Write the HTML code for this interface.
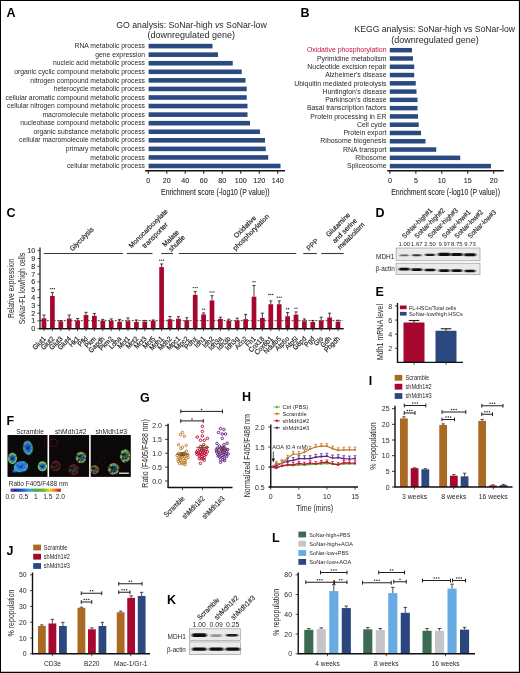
<!DOCTYPE html>
<html><head><meta charset="utf-8"><title>Figure</title>
<style>
html,body{margin:0;padding:0;background:#fff;}
body{width:520px;height:673px;overflow:hidden;font-family:"Liberation Sans",sans-serif;}
svg{display:block;will-change:transform;font-family:"Liberation Sans",sans-serif;}
</style></head><body>
<svg width="520" height="673" viewBox="0 0 520 673">
<rect x="0" y="0" width="520" height="673" fill="#ffffff"/>
<g opacity="0.999">
<text transform="translate(6.50,16.93)" font-size="12.5" text-anchor="start" fill="#000" font-weight="bold">A</text>
<text transform="translate(191.5,27.7)" font-size="9.1" text-anchor="middle" fill="#231f20" textLength="150.5" lengthAdjust="spacingAndGlyphs">GO analysis: SoNar-high <tspan font-style="italic">vs</tspan> SoNar-low</text>
<text transform="translate(191.30,37.90)" font-size="9.1" text-anchor="middle" fill="#231f20" textLength="87.50" lengthAdjust="spacingAndGlyphs">(downregulated gene)</text>
<rect x="148.60" y="43.80" width="63.90" height="4.60" fill="#2c4a82" />
<text transform="translate(145.00,48.25)" font-size="7.4" text-anchor="end" fill="#231f20" textLength="70.50" lengthAdjust="spacingAndGlyphs">RNA metabolic process</text>
<rect x="148.60" y="52.36" width="69.40" height="4.60" fill="#2c4a82" />
<text transform="translate(145.00,56.81)" font-size="7.4" text-anchor="end" fill="#231f20" textLength="49.78" lengthAdjust="spacingAndGlyphs">gene expression</text>
<rect x="148.60" y="60.93" width="84.15" height="4.60" fill="#2c4a82" />
<text transform="translate(145.00,65.38)" font-size="7.4" text-anchor="end" fill="#231f20" textLength="92.00" lengthAdjust="spacingAndGlyphs">nucleic acid metabolic process</text>
<rect x="148.60" y="69.49" width="93.15" height="4.60" fill="#2c4a82" />
<text transform="translate(145.00,73.94)" font-size="7.4" text-anchor="end" fill="#231f20" textLength="130.83" lengthAdjust="spacingAndGlyphs">organic cyclic compound metabolic process</text>
<rect x="148.60" y="78.06" width="96.90" height="4.60" fill="#2c4a82" />
<text transform="translate(145.00,82.51)" font-size="7.4" text-anchor="end" fill="#231f20" textLength="114.63" lengthAdjust="spacingAndGlyphs">nitrogen compound metabolic process</text>
<rect x="148.60" y="86.62" width="98.15" height="4.60" fill="#2c4a82" />
<text transform="translate(145.00,91.07)" font-size="7.4" text-anchor="end" fill="#231f20" textLength="91.24" lengthAdjust="spacingAndGlyphs">heterocycle metabolic process</text>
<rect x="148.60" y="95.19" width="98.15" height="4.60" fill="#2c4a82" />
<text transform="translate(145.00,99.63)" font-size="7.4" text-anchor="end" fill="#231f20" textLength="139.50" lengthAdjust="spacingAndGlyphs">cellular aromatic compound metabolic process</text>
<rect x="148.60" y="103.75" width="98.90" height="4.60" fill="#2c4a82" />
<text transform="translate(145.00,108.20)" font-size="7.4" text-anchor="end" fill="#231f20" textLength="138.00" lengthAdjust="spacingAndGlyphs">cellular nitrogen compound metabolic process</text>
<rect x="148.60" y="112.31" width="98.90" height="4.60" fill="#2c4a82" />
<text transform="translate(145.00,116.76)" font-size="7.4" text-anchor="end" fill="#231f20" textLength="102.55" lengthAdjust="spacingAndGlyphs">macromolecule metabolic process</text>
<rect x="148.60" y="120.88" width="101.40" height="4.60" fill="#2c4a82" />
<text transform="translate(145.00,125.33)" font-size="7.4" text-anchor="end" fill="#231f20" textLength="124.81" lengthAdjust="spacingAndGlyphs">nucleobase compound metabolic process</text>
<rect x="148.60" y="129.44" width="111.40" height="4.60" fill="#2c4a82" />
<text transform="translate(145.00,133.89)" font-size="7.4" text-anchor="end" fill="#231f20" textLength="111.61" lengthAdjust="spacingAndGlyphs">organic substance metabolic process</text>
<rect x="148.60" y="138.01" width="116.40" height="4.60" fill="#2c4a82" />
<text transform="translate(145.00,142.46)" font-size="7.4" text-anchor="end" fill="#231f20" textLength="125.92" lengthAdjust="spacingAndGlyphs">cellular macromolecule metabolic process</text>
<rect x="148.60" y="146.57" width="117.15" height="4.60" fill="#2c4a82" />
<text transform="translate(145.00,151.02)" font-size="7.4" text-anchor="end" fill="#231f20" textLength="79.17" lengthAdjust="spacingAndGlyphs">primary metabolic process</text>
<rect x="148.60" y="155.14" width="119.65" height="4.60" fill="#2c4a82" />
<text transform="translate(145.00,159.58)" font-size="7.4" text-anchor="end" fill="#231f20" textLength="54.67" lengthAdjust="spacingAndGlyphs">metabolic process</text>
<rect x="148.60" y="163.70" width="131.90" height="4.60" fill="#2c4a82" />
<text transform="translate(145.00,168.15)" font-size="7.4" text-anchor="end" fill="#231f20" textLength="78.04" lengthAdjust="spacingAndGlyphs">cellular metabolic process</text>
<line x1="145.20" y1="170.75" x2="285.00" y2="170.75" stroke="#101010" stroke-width="1.3" stroke-linecap="butt"/>
<line x1="148.25" y1="170.75" x2="148.25" y2="173.75" stroke="#231f20" stroke-width="1.1" stroke-linecap="butt"/>
<text transform="translate(148.25,183.03)" font-size="7.9" text-anchor="middle" fill="#231f20" textLength="3.95" lengthAdjust="spacingAndGlyphs" stroke="#231f20" stroke-width="0.1">0</text>
<line x1="166.75" y1="170.75" x2="166.75" y2="173.75" stroke="#231f20" stroke-width="1.1" stroke-linecap="butt"/>
<text transform="translate(166.75,183.03)" font-size="7.9" text-anchor="middle" fill="#231f20" textLength="7.91" lengthAdjust="spacingAndGlyphs" stroke="#231f20" stroke-width="0.1">20</text>
<line x1="185.25" y1="170.75" x2="185.25" y2="173.75" stroke="#231f20" stroke-width="1.1" stroke-linecap="butt"/>
<text transform="translate(185.25,183.03)" font-size="7.9" text-anchor="middle" fill="#231f20" textLength="7.91" lengthAdjust="spacingAndGlyphs" stroke="#231f20" stroke-width="0.1">40</text>
<line x1="203.75" y1="170.75" x2="203.75" y2="173.75" stroke="#231f20" stroke-width="1.1" stroke-linecap="butt"/>
<text transform="translate(203.75,183.03)" font-size="7.9" text-anchor="middle" fill="#231f20" textLength="7.91" lengthAdjust="spacingAndGlyphs" stroke="#231f20" stroke-width="0.1">60</text>
<line x1="222.25" y1="170.75" x2="222.25" y2="173.75" stroke="#231f20" stroke-width="1.1" stroke-linecap="butt"/>
<text transform="translate(222.25,183.03)" font-size="7.9" text-anchor="middle" fill="#231f20" textLength="7.91" lengthAdjust="spacingAndGlyphs" stroke="#231f20" stroke-width="0.1">80</text>
<line x1="240.75" y1="170.75" x2="240.75" y2="173.75" stroke="#231f20" stroke-width="1.1" stroke-linecap="butt"/>
<text transform="translate(240.75,183.03)" font-size="7.9" text-anchor="middle" fill="#231f20" textLength="11.86" lengthAdjust="spacingAndGlyphs" stroke="#231f20" stroke-width="0.1">100</text>
<line x1="259.25" y1="170.75" x2="259.25" y2="173.75" stroke="#231f20" stroke-width="1.1" stroke-linecap="butt"/>
<text transform="translate(259.25,183.03)" font-size="7.9" text-anchor="middle" fill="#231f20" textLength="11.86" lengthAdjust="spacingAndGlyphs" stroke="#231f20" stroke-width="0.1">120</text>
<line x1="277.75" y1="170.75" x2="277.75" y2="173.75" stroke="#231f20" stroke-width="1.1" stroke-linecap="butt"/>
<text transform="translate(277.75,183.03)" font-size="7.9" text-anchor="middle" fill="#231f20" textLength="11.86" lengthAdjust="spacingAndGlyphs" stroke="#231f20" stroke-width="0.1">140</text>
<text transform="translate(215.30,195.02)" font-size="9.0" text-anchor="middle" fill="#231f20" textLength="108.50" lengthAdjust="spacingAndGlyphs" stroke="#231f20" stroke-width="0.08">Enrichment score (-log10 (P value))</text>
<text transform="translate(300.50,17.43)" font-size="12.5" text-anchor="start" fill="#000" font-weight="bold">B</text>
<text transform="translate(434.75,32.00)" font-size="9.1" text-anchor="middle" fill="#231f20" textLength="160.50" lengthAdjust="spacingAndGlyphs">KEGG analysis: SoNar-high vs SoNar-low</text>
<text transform="translate(435.00,42.50)" font-size="9.1" text-anchor="middle" fill="#231f20" textLength="87.50" lengthAdjust="spacingAndGlyphs">(downregulated gene)</text>
<rect x="389.80" y="47.95" width="22.20" height="4.50" fill="#2c4a82" />
<text transform="translate(386.50,52.40)" font-size="7.4" text-anchor="end" fill="#c0143c" textLength="79.62" lengthAdjust="spacingAndGlyphs">Oxidative phosphorylation</text>
<rect x="389.80" y="56.23" width="23.20" height="4.50" fill="#2c4a82" />
<text transform="translate(386.50,60.68)" font-size="7.4" text-anchor="end" fill="#231f20" textLength="69.60" lengthAdjust="spacingAndGlyphs">Pyrimidine metabolism</text>
<rect x="389.80" y="64.51" width="24.45" height="4.50" fill="#2c4a82" />
<text transform="translate(386.50,68.96)" font-size="7.4" text-anchor="end" fill="#231f20" textLength="79.22" lengthAdjust="spacingAndGlyphs">Nucleotide excision repair</text>
<rect x="389.80" y="72.79" width="24.45" height="4.50" fill="#2c4a82" />
<text transform="translate(386.50,77.23)" font-size="7.4" text-anchor="end" fill="#231f20" textLength="61.31" lengthAdjust="spacingAndGlyphs">Alzheimer's disease</text>
<rect x="389.80" y="81.06" width="25.95" height="4.50" fill="#2c4a82" />
<text transform="translate(386.50,85.51)" font-size="7.4" text-anchor="end" fill="#231f20" textLength="92.30" lengthAdjust="spacingAndGlyphs">Ubiquitin mediated proteolysis</text>
<rect x="389.80" y="89.34" width="26.70" height="4.50" fill="#2c4a82" />
<text transform="translate(386.50,93.79)" font-size="7.4" text-anchor="end" fill="#231f20" textLength="64.02" lengthAdjust="spacingAndGlyphs">Huntington's disease</text>
<rect x="389.80" y="97.62" width="27.70" height="4.50" fill="#2c4a82" />
<text transform="translate(386.50,102.07)" font-size="7.4" text-anchor="end" fill="#231f20" textLength="61.32" lengthAdjust="spacingAndGlyphs">Parkinson's disease</text>
<rect x="389.80" y="105.90" width="27.70" height="4.50" fill="#2c4a82" />
<text transform="translate(386.50,110.35)" font-size="7.4" text-anchor="end" fill="#231f20" textLength="79.60" lengthAdjust="spacingAndGlyphs">Basal transcription factors</text>
<rect x="389.80" y="114.18" width="28.20" height="4.50" fill="#2c4a82" />
<text transform="translate(386.50,118.63)" font-size="7.4" text-anchor="end" fill="#231f20" textLength="76.15" lengthAdjust="spacingAndGlyphs">Protein processing in ER</text>
<rect x="389.80" y="122.46" width="28.95" height="4.50" fill="#2c4a82" />
<text transform="translate(386.50,126.91)" font-size="7.4" text-anchor="end" fill="#231f20" textLength="29.61" lengthAdjust="spacingAndGlyphs">Cell cycle</text>
<rect x="389.80" y="130.74" width="31.20" height="4.50" fill="#2c4a82" />
<text transform="translate(386.50,135.18)" font-size="7.4" text-anchor="end" fill="#231f20" textLength="43.08" lengthAdjust="spacingAndGlyphs">Protein export</text>
<rect x="389.80" y="139.01" width="35.70" height="4.50" fill="#2c4a82" />
<text transform="translate(386.50,143.46)" font-size="7.4" text-anchor="end" fill="#231f20" textLength="66.15" lengthAdjust="spacingAndGlyphs">Ribosome biogenesis</text>
<rect x="389.80" y="147.29" width="46.45" height="4.50" fill="#2c4a82" />
<text transform="translate(386.50,151.74)" font-size="7.4" text-anchor="end" fill="#231f20" textLength="43.45" lengthAdjust="spacingAndGlyphs">RNA transport</text>
<rect x="389.80" y="155.57" width="70.45" height="4.50" fill="#2c4a82" />
<text transform="translate(386.50,160.02)" font-size="7.4" text-anchor="end" fill="#231f20" textLength="31.15" lengthAdjust="spacingAndGlyphs">Ribosome</text>
<rect x="389.80" y="163.85" width="101.20" height="4.50" fill="#2c4a82" />
<text transform="translate(386.50,168.30)" font-size="7.4" text-anchor="end" fill="#231f20" textLength="39.61" lengthAdjust="spacingAndGlyphs">Spliceosome</text>
<line x1="387.30" y1="170.75" x2="503.75" y2="170.75" stroke="#101010" stroke-width="1.3" stroke-linecap="butt"/>
<line x1="389.90" y1="170.75" x2="389.90" y2="173.75" stroke="#231f20" stroke-width="1.1" stroke-linecap="butt"/>
<text transform="translate(389.90,183.03)" font-size="7.9" text-anchor="middle" fill="#231f20" textLength="3.95" lengthAdjust="spacingAndGlyphs" stroke="#231f20" stroke-width="0.1">0</text>
<line x1="415.85" y1="170.75" x2="415.85" y2="173.75" stroke="#231f20" stroke-width="1.1" stroke-linecap="butt"/>
<text transform="translate(415.85,183.03)" font-size="7.9" text-anchor="middle" fill="#231f20" textLength="3.95" lengthAdjust="spacingAndGlyphs" stroke="#231f20" stroke-width="0.1">5</text>
<line x1="441.80" y1="170.75" x2="441.80" y2="173.75" stroke="#231f20" stroke-width="1.1" stroke-linecap="butt"/>
<text transform="translate(441.80,183.03)" font-size="7.9" text-anchor="middle" fill="#231f20" textLength="7.91" lengthAdjust="spacingAndGlyphs" stroke="#231f20" stroke-width="0.1">10</text>
<line x1="467.75" y1="170.75" x2="467.75" y2="173.75" stroke="#231f20" stroke-width="1.1" stroke-linecap="butt"/>
<text transform="translate(467.75,183.03)" font-size="7.9" text-anchor="middle" fill="#231f20" textLength="7.91" lengthAdjust="spacingAndGlyphs" stroke="#231f20" stroke-width="0.1">15</text>
<line x1="493.70" y1="170.75" x2="493.70" y2="173.75" stroke="#231f20" stroke-width="1.1" stroke-linecap="butt"/>
<text transform="translate(493.70,183.03)" font-size="7.9" text-anchor="middle" fill="#231f20" textLength="7.91" lengthAdjust="spacingAndGlyphs" stroke="#231f20" stroke-width="0.1">20</text>
<text transform="translate(445.60,195.02)" font-size="9.0" text-anchor="middle" fill="#231f20" textLength="108.70" lengthAdjust="spacingAndGlyphs" stroke="#231f20" stroke-width="0.08">Enrichment score (-log10 (P value))</text>
<text transform="translate(6.50,216.68)" font-size="12.5" text-anchor="start" fill="#000" font-weight="bold">C</text>
<line x1="40.00" y1="247.50" x2="40.00" y2="329.20" stroke="#101010" stroke-width="1.2" stroke-linecap="butt"/>
<line x1="39.50" y1="328.70" x2="343.50" y2="328.70" stroke="#101010" stroke-width="1.2" stroke-linecap="butt"/>
<line x1="37.40" y1="328.70" x2="40.00" y2="328.70" stroke="#231f20" stroke-width="0.8" stroke-linecap="butt"/>
<text transform="translate(35.30,331.21)" font-size="7.0" text-anchor="end" fill="#231f20" textLength="3.97" lengthAdjust="spacingAndGlyphs" stroke="#231f20" stroke-width="0.1">0</text>
<line x1="37.40" y1="320.90" x2="40.00" y2="320.90" stroke="#231f20" stroke-width="0.8" stroke-linecap="butt"/>
<text transform="translate(35.30,323.41)" font-size="7.0" text-anchor="end" fill="#231f20" textLength="3.97" lengthAdjust="spacingAndGlyphs" stroke="#231f20" stroke-width="0.1">1</text>
<line x1="37.40" y1="313.10" x2="40.00" y2="313.10" stroke="#231f20" stroke-width="0.8" stroke-linecap="butt"/>
<text transform="translate(35.30,315.61)" font-size="7.0" text-anchor="end" fill="#231f20" textLength="3.97" lengthAdjust="spacingAndGlyphs" stroke="#231f20" stroke-width="0.1">2</text>
<line x1="37.40" y1="305.30" x2="40.00" y2="305.30" stroke="#231f20" stroke-width="0.8" stroke-linecap="butt"/>
<text transform="translate(35.30,307.81)" font-size="7.0" text-anchor="end" fill="#231f20" textLength="3.97" lengthAdjust="spacingAndGlyphs" stroke="#231f20" stroke-width="0.1">3</text>
<line x1="37.40" y1="297.50" x2="40.00" y2="297.50" stroke="#231f20" stroke-width="0.8" stroke-linecap="butt"/>
<text transform="translate(35.30,300.01)" font-size="7.0" text-anchor="end" fill="#231f20" textLength="3.97" lengthAdjust="spacingAndGlyphs" stroke="#231f20" stroke-width="0.1">4</text>
<line x1="37.40" y1="289.70" x2="40.00" y2="289.70" stroke="#231f20" stroke-width="0.8" stroke-linecap="butt"/>
<text transform="translate(35.30,292.21)" font-size="7.0" text-anchor="end" fill="#231f20" textLength="3.97" lengthAdjust="spacingAndGlyphs" stroke="#231f20" stroke-width="0.1">5</text>
<line x1="37.40" y1="281.90" x2="40.00" y2="281.90" stroke="#231f20" stroke-width="0.8" stroke-linecap="butt"/>
<text transform="translate(35.30,284.41)" font-size="7.0" text-anchor="end" fill="#231f20" textLength="3.97" lengthAdjust="spacingAndGlyphs" stroke="#231f20" stroke-width="0.1">6</text>
<line x1="37.40" y1="274.10" x2="40.00" y2="274.10" stroke="#231f20" stroke-width="0.8" stroke-linecap="butt"/>
<text transform="translate(35.30,276.61)" font-size="7.0" text-anchor="end" fill="#231f20" textLength="3.97" lengthAdjust="spacingAndGlyphs" stroke="#231f20" stroke-width="0.1">7</text>
<line x1="37.40" y1="266.30" x2="40.00" y2="266.30" stroke="#231f20" stroke-width="0.8" stroke-linecap="butt"/>
<text transform="translate(35.30,268.81)" font-size="7.0" text-anchor="end" fill="#231f20" textLength="3.97" lengthAdjust="spacingAndGlyphs" stroke="#231f20" stroke-width="0.1">8</text>
<line x1="37.40" y1="258.50" x2="40.00" y2="258.50" stroke="#231f20" stroke-width="0.8" stroke-linecap="butt"/>
<text transform="translate(35.30,261.01)" font-size="7.0" text-anchor="end" fill="#231f20" textLength="3.97" lengthAdjust="spacingAndGlyphs" stroke="#231f20" stroke-width="0.1">9</text>
<line x1="37.40" y1="250.70" x2="40.00" y2="250.70" stroke="#231f20" stroke-width="0.8" stroke-linecap="butt"/>
<text transform="translate(35.30,253.21)" font-size="7.0" text-anchor="end" fill="#231f20" textLength="7.94" lengthAdjust="spacingAndGlyphs" stroke="#231f20" stroke-width="0.1">10</text>
<line x1="40.00" y1="320.67" x2="343.00" y2="320.67" stroke="#000" stroke-width="0.75" stroke-dasharray="2.0 1.4" stroke-linecap="butt"/>
<line x1="44.00" y1="318.33" x2="44.00" y2="315.05" stroke="#231f20" stroke-width="0.85" stroke-linecap="butt"/>
<line x1="42.45" y1="315.05" x2="45.55" y2="315.05" stroke="#231f20" stroke-width="0.85" stroke-linecap="butt"/>
<rect x="41.65" y="318.33" width="4.70" height="10.37" fill="#a6072e" />
<line x1="44.00" y1="328.70" x2="44.00" y2="331.10" stroke="#231f20" stroke-width="0.8" stroke-linecap="butt"/>
<text transform="translate(46.30,339.30) rotate(-45)" font-size="7.1" text-anchor="end" fill="#231f20" textLength="15.61" lengthAdjust="spacingAndGlyphs" stroke="#231f20" stroke-width="0.2">Glut1</text>
<line x1="52.40" y1="295.94" x2="52.40" y2="292.43" stroke="#231f20" stroke-width="0.85" stroke-linecap="butt"/>
<line x1="50.85" y1="292.43" x2="53.95" y2="292.43" stroke="#231f20" stroke-width="0.85" stroke-linecap="butt"/>
<rect x="50.05" y="295.94" width="4.70" height="32.76" fill="#a6072e" />
<line x1="52.40" y1="328.70" x2="52.40" y2="331.10" stroke="#231f20" stroke-width="0.8" stroke-linecap="butt"/>
<text transform="translate(54.70,339.30) rotate(-45)" font-size="7.1" text-anchor="end" fill="#231f20" textLength="15.61" lengthAdjust="spacingAndGlyphs" stroke="#231f20" stroke-width="0.2">Glut2</text>
<circle cx="50.50" cy="288.63" r="0.7" fill="#231f20"/>
<circle cx="52.40" cy="288.63" r="0.7" fill="#231f20"/>
<circle cx="54.30" cy="288.63" r="0.7" fill="#231f20"/>
<line x1="60.80" y1="321.29" x2="60.80" y2="320.51" stroke="#231f20" stroke-width="0.85" stroke-linecap="butt"/>
<line x1="59.25" y1="320.51" x2="62.35" y2="320.51" stroke="#231f20" stroke-width="0.85" stroke-linecap="butt"/>
<rect x="58.45" y="321.29" width="4.70" height="7.41" fill="#a6072e" />
<line x1="60.80" y1="328.70" x2="60.80" y2="331.10" stroke="#231f20" stroke-width="0.8" stroke-linecap="butt"/>
<text transform="translate(63.10,339.30) rotate(-45)" font-size="7.1" text-anchor="end" fill="#231f20" textLength="15.61" lengthAdjust="spacingAndGlyphs" stroke="#231f20" stroke-width="0.2">Glut3</text>
<line x1="69.20" y1="318.56" x2="69.20" y2="315.05" stroke="#231f20" stroke-width="0.85" stroke-linecap="butt"/>
<line x1="67.65" y1="315.05" x2="70.75" y2="315.05" stroke="#231f20" stroke-width="0.85" stroke-linecap="butt"/>
<rect x="66.85" y="318.56" width="4.70" height="10.14" fill="#a6072e" />
<line x1="69.20" y1="328.70" x2="69.20" y2="331.10" stroke="#231f20" stroke-width="0.8" stroke-linecap="butt"/>
<text transform="translate(71.50,339.30) rotate(-45)" font-size="7.1" text-anchor="end" fill="#231f20" textLength="15.61" lengthAdjust="spacingAndGlyphs" stroke="#231f20" stroke-width="0.2">Glut4</text>
<line x1="77.60" y1="320.51" x2="77.60" y2="318.56" stroke="#231f20" stroke-width="0.85" stroke-linecap="butt"/>
<line x1="76.05" y1="318.56" x2="79.15" y2="318.56" stroke="#231f20" stroke-width="0.85" stroke-linecap="butt"/>
<rect x="75.25" y="320.51" width="4.70" height="8.19" fill="#a6072e" />
<line x1="77.60" y1="328.70" x2="77.60" y2="331.10" stroke="#231f20" stroke-width="0.8" stroke-linecap="butt"/>
<text transform="translate(79.90,339.30) rotate(-45)" font-size="7.1" text-anchor="end" fill="#231f20" textLength="11.62" lengthAdjust="spacingAndGlyphs" stroke="#231f20" stroke-width="0.2">Hk1</text>
<line x1="86.00" y1="315.05" x2="86.00" y2="312.32" stroke="#231f20" stroke-width="0.85" stroke-linecap="butt"/>
<line x1="84.45" y1="312.32" x2="87.55" y2="312.32" stroke="#231f20" stroke-width="0.85" stroke-linecap="butt"/>
<rect x="83.65" y="315.05" width="4.70" height="13.65" fill="#a6072e" />
<line x1="86.00" y1="328.70" x2="86.00" y2="331.10" stroke="#231f20" stroke-width="0.8" stroke-linecap="butt"/>
<text transform="translate(88.30,339.30) rotate(-45)" font-size="7.1" text-anchor="end" fill="#231f20" textLength="10.89" lengthAdjust="spacingAndGlyphs" stroke="#231f20" stroke-width="0.2">Pfkl</text>
<line x1="94.40" y1="315.83" x2="94.40" y2="313.49" stroke="#231f20" stroke-width="0.85" stroke-linecap="butt"/>
<line x1="92.85" y1="313.49" x2="95.95" y2="313.49" stroke="#231f20" stroke-width="0.85" stroke-linecap="butt"/>
<rect x="92.05" y="315.83" width="4.70" height="12.87" fill="#a6072e" />
<line x1="94.40" y1="328.70" x2="94.40" y2="331.10" stroke="#231f20" stroke-width="0.8" stroke-linecap="butt"/>
<text transform="translate(96.70,339.30) rotate(-45)" font-size="7.1" text-anchor="end" fill="#231f20" textLength="13.06" lengthAdjust="spacingAndGlyphs" stroke="#231f20" stroke-width="0.2">Pkm</text>
<line x1="102.80" y1="320.90" x2="102.80" y2="319.34" stroke="#231f20" stroke-width="0.85" stroke-linecap="butt"/>
<line x1="101.25" y1="319.34" x2="104.35" y2="319.34" stroke="#231f20" stroke-width="0.85" stroke-linecap="butt"/>
<rect x="100.45" y="320.90" width="4.70" height="7.80" fill="#a6072e" />
<line x1="102.80" y1="328.70" x2="102.80" y2="331.10" stroke="#231f20" stroke-width="0.8" stroke-linecap="butt"/>
<text transform="translate(105.10,339.30) rotate(-45)" font-size="7.1" text-anchor="end" fill="#231f20" textLength="19.61" lengthAdjust="spacingAndGlyphs" stroke="#231f20" stroke-width="0.2">Gapdh</text>
<line x1="111.20" y1="320.90" x2="111.20" y2="318.95" stroke="#231f20" stroke-width="0.85" stroke-linecap="butt"/>
<line x1="109.65" y1="318.95" x2="112.75" y2="318.95" stroke="#231f20" stroke-width="0.85" stroke-linecap="butt"/>
<rect x="108.85" y="320.90" width="4.70" height="7.80" fill="#a6072e" />
<line x1="111.20" y1="328.70" x2="111.20" y2="331.10" stroke="#231f20" stroke-width="0.8" stroke-linecap="butt"/>
<text transform="translate(113.50,339.30) rotate(-45)" font-size="7.1" text-anchor="end" fill="#231f20" textLength="16.70" lengthAdjust="spacingAndGlyphs" stroke="#231f20" stroke-width="0.2">Pkm2</text>
<line x1="119.60" y1="321.68" x2="119.60" y2="319.42" stroke="#231f20" stroke-width="0.85" stroke-linecap="butt"/>
<line x1="118.05" y1="319.42" x2="121.15" y2="319.42" stroke="#231f20" stroke-width="0.85" stroke-linecap="butt"/>
<rect x="117.25" y="321.68" width="4.70" height="7.02" fill="#a6072e" />
<line x1="119.60" y1="328.70" x2="119.60" y2="331.10" stroke="#231f20" stroke-width="0.8" stroke-linecap="butt"/>
<text transform="translate(121.90,339.30) rotate(-45)" font-size="7.1" text-anchor="end" fill="#231f20" textLength="14.53" lengthAdjust="spacingAndGlyphs" stroke="#231f20" stroke-width="0.2">Ldha</text>
<line x1="128.00" y1="321.21" x2="128.00" y2="317.94" stroke="#231f20" stroke-width="0.85" stroke-linecap="butt"/>
<line x1="126.45" y1="317.94" x2="129.55" y2="317.94" stroke="#231f20" stroke-width="0.85" stroke-linecap="butt"/>
<rect x="125.65" y="321.21" width="4.70" height="7.49" fill="#a6072e" />
<line x1="128.00" y1="328.70" x2="128.00" y2="331.10" stroke="#231f20" stroke-width="0.8" stroke-linecap="butt"/>
<text transform="translate(130.30,339.30) rotate(-45)" font-size="7.1" text-anchor="end" fill="#231f20" textLength="14.16" lengthAdjust="spacingAndGlyphs" stroke="#231f20" stroke-width="0.2">Mct1</text>
<line x1="136.40" y1="321.91" x2="136.40" y2="319.96" stroke="#231f20" stroke-width="0.85" stroke-linecap="butt"/>
<line x1="134.85" y1="319.96" x2="137.95" y2="319.96" stroke="#231f20" stroke-width="0.85" stroke-linecap="butt"/>
<rect x="134.05" y="321.91" width="4.70" height="6.79" fill="#a6072e" />
<line x1="136.40" y1="328.70" x2="136.40" y2="331.10" stroke="#231f20" stroke-width="0.8" stroke-linecap="butt"/>
<text transform="translate(138.70,339.30) rotate(-45)" font-size="7.1" text-anchor="end" fill="#231f20" textLength="14.16" lengthAdjust="spacingAndGlyphs" stroke="#231f20" stroke-width="0.2">Mct2</text>
<line x1="144.80" y1="321.68" x2="144.80" y2="320.43" stroke="#231f20" stroke-width="0.85" stroke-linecap="butt"/>
<line x1="143.25" y1="320.43" x2="146.35" y2="320.43" stroke="#231f20" stroke-width="0.85" stroke-linecap="butt"/>
<rect x="142.45" y="321.68" width="4.70" height="7.02" fill="#a6072e" />
<line x1="144.80" y1="328.70" x2="144.80" y2="331.10" stroke="#231f20" stroke-width="0.8" stroke-linecap="butt"/>
<text transform="translate(147.10,339.30) rotate(-45)" font-size="7.1" text-anchor="end" fill="#231f20" textLength="14.16" lengthAdjust="spacingAndGlyphs" stroke="#231f20" stroke-width="0.2">Mct3</text>
<line x1="153.20" y1="320.90" x2="153.20" y2="319.96" stroke="#231f20" stroke-width="0.85" stroke-linecap="butt"/>
<line x1="151.65" y1="319.96" x2="154.75" y2="319.96" stroke="#231f20" stroke-width="0.85" stroke-linecap="butt"/>
<rect x="150.85" y="320.90" width="4.70" height="7.80" fill="#a6072e" />
<line x1="153.20" y1="328.70" x2="153.20" y2="331.10" stroke="#231f20" stroke-width="0.8" stroke-linecap="butt"/>
<text transform="translate(155.50,339.30) rotate(-45)" font-size="7.1" text-anchor="end" fill="#231f20" textLength="14.16" lengthAdjust="spacingAndGlyphs" stroke="#231f20" stroke-width="0.2">Mct5</text>
<line x1="161.60" y1="267.08" x2="161.60" y2="263.96" stroke="#231f20" stroke-width="0.85" stroke-linecap="butt"/>
<line x1="160.05" y1="263.96" x2="163.15" y2="263.96" stroke="#231f20" stroke-width="0.85" stroke-linecap="butt"/>
<rect x="159.25" y="267.08" width="4.70" height="61.62" fill="#a6072e" />
<line x1="161.60" y1="328.70" x2="161.60" y2="331.10" stroke="#231f20" stroke-width="0.8" stroke-linecap="butt"/>
<text transform="translate(163.90,339.30) rotate(-45)" font-size="7.1" text-anchor="end" fill="#231f20" textLength="16.34" lengthAdjust="spacingAndGlyphs" stroke="#231f20" stroke-width="0.2">Mdh1</text>
<circle cx="159.70" cy="260.16" r="0.7" fill="#231f20"/>
<circle cx="161.60" cy="260.16" r="0.7" fill="#231f20"/>
<circle cx="163.50" cy="260.16" r="0.7" fill="#231f20"/>
<line x1="170.00" y1="319.18" x2="170.00" y2="316.45" stroke="#231f20" stroke-width="0.85" stroke-linecap="butt"/>
<line x1="168.45" y1="316.45" x2="171.55" y2="316.45" stroke="#231f20" stroke-width="0.85" stroke-linecap="butt"/>
<rect x="167.65" y="319.18" width="4.70" height="9.52" fill="#a6072e" />
<line x1="170.00" y1="328.70" x2="170.00" y2="331.10" stroke="#231f20" stroke-width="0.8" stroke-linecap="butt"/>
<text transform="translate(172.30,339.30) rotate(-45)" font-size="7.1" text-anchor="end" fill="#231f20" textLength="16.34" lengthAdjust="spacingAndGlyphs" stroke="#231f20" stroke-width="0.2">Mdh2</text>
<line x1="178.40" y1="318.72" x2="178.40" y2="316.69" stroke="#231f20" stroke-width="0.85" stroke-linecap="butt"/>
<line x1="176.85" y1="316.69" x2="179.95" y2="316.69" stroke="#231f20" stroke-width="0.85" stroke-linecap="butt"/>
<rect x="176.05" y="318.72" width="4.70" height="9.98" fill="#a6072e" />
<line x1="178.40" y1="328.70" x2="178.40" y2="331.10" stroke="#231f20" stroke-width="0.8" stroke-linecap="butt"/>
<text transform="translate(180.70,339.30) rotate(-45)" font-size="7.1" text-anchor="end" fill="#231f20" textLength="15.97" lengthAdjust="spacingAndGlyphs" stroke="#231f20" stroke-width="0.2">Mpc1</text>
<line x1="186.80" y1="320.20" x2="186.80" y2="317.70" stroke="#231f20" stroke-width="0.85" stroke-linecap="butt"/>
<line x1="185.25" y1="317.70" x2="188.35" y2="317.70" stroke="#231f20" stroke-width="0.85" stroke-linecap="butt"/>
<rect x="184.45" y="320.20" width="4.70" height="8.50" fill="#a6072e" />
<line x1="186.80" y1="328.70" x2="186.80" y2="331.10" stroke="#231f20" stroke-width="0.8" stroke-linecap="butt"/>
<text transform="translate(189.10,339.30) rotate(-45)" font-size="7.1" text-anchor="end" fill="#231f20" textLength="15.97" lengthAdjust="spacingAndGlyphs" stroke="#231f20" stroke-width="0.2">Mpc2</text>
<line x1="195.20" y1="294.93" x2="195.20" y2="291.42" stroke="#231f20" stroke-width="0.85" stroke-linecap="butt"/>
<line x1="193.65" y1="291.42" x2="196.75" y2="291.42" stroke="#231f20" stroke-width="0.85" stroke-linecap="butt"/>
<rect x="192.85" y="294.93" width="4.70" height="33.77" fill="#a6072e" />
<line x1="195.20" y1="328.70" x2="195.20" y2="331.10" stroke="#231f20" stroke-width="0.8" stroke-linecap="butt"/>
<text transform="translate(197.50,339.30) rotate(-45)" font-size="7.1" text-anchor="end" fill="#231f20" textLength="14.89" lengthAdjust="spacingAndGlyphs" stroke="#231f20" stroke-width="0.2">Pdhx</text>
<circle cx="193.30" cy="287.62" r="0.7" fill="#231f20"/>
<circle cx="195.20" cy="287.62" r="0.7" fill="#231f20"/>
<circle cx="197.10" cy="287.62" r="0.7" fill="#231f20"/>
<line x1="203.60" y1="314.43" x2="203.60" y2="312.94" stroke="#231f20" stroke-width="0.85" stroke-linecap="butt"/>
<line x1="202.05" y1="312.94" x2="205.15" y2="312.94" stroke="#231f20" stroke-width="0.85" stroke-linecap="butt"/>
<rect x="201.25" y="314.43" width="4.70" height="14.27" fill="#a6072e" />
<line x1="203.60" y1="328.70" x2="203.60" y2="331.10" stroke="#231f20" stroke-width="0.8" stroke-linecap="butt"/>
<text transform="translate(205.90,339.30) rotate(-45)" font-size="7.1" text-anchor="end" fill="#231f20" textLength="12.71" lengthAdjust="spacingAndGlyphs" stroke="#231f20" stroke-width="0.2">Idh1</text>
<circle cx="202.65" cy="309.14" r="0.7" fill="#231f20"/>
<circle cx="204.55" cy="309.14" r="0.7" fill="#231f20"/>
<line x1="212.00" y1="300.46" x2="212.00" y2="295.71" stroke="#231f20" stroke-width="0.85" stroke-linecap="butt"/>
<line x1="210.45" y1="295.71" x2="213.55" y2="295.71" stroke="#231f20" stroke-width="0.85" stroke-linecap="butt"/>
<rect x="209.65" y="300.46" width="4.70" height="28.24" fill="#a6072e" />
<line x1="212.00" y1="328.70" x2="212.00" y2="331.10" stroke="#231f20" stroke-width="0.8" stroke-linecap="butt"/>
<text transform="translate(214.30,339.30) rotate(-45)" font-size="7.1" text-anchor="end" fill="#231f20" textLength="12.71" lengthAdjust="spacingAndGlyphs" stroke="#231f20" stroke-width="0.2">Idh2</text>
<circle cx="210.10" cy="291.91" r="0.7" fill="#231f20"/>
<circle cx="212.00" cy="291.91" r="0.7" fill="#231f20"/>
<circle cx="213.90" cy="291.91" r="0.7" fill="#231f20"/>
<line x1="220.40" y1="318.95" x2="220.40" y2="317.23" stroke="#231f20" stroke-width="0.85" stroke-linecap="butt"/>
<line x1="218.85" y1="317.23" x2="221.95" y2="317.23" stroke="#231f20" stroke-width="0.85" stroke-linecap="butt"/>
<rect x="218.05" y="318.95" width="4.70" height="9.75" fill="#a6072e" />
<line x1="220.40" y1="328.70" x2="220.40" y2="331.10" stroke="#231f20" stroke-width="0.8" stroke-linecap="butt"/>
<text transform="translate(222.70,339.30) rotate(-45)" font-size="7.1" text-anchor="end" fill="#231f20" textLength="16.35" lengthAdjust="spacingAndGlyphs" stroke="#231f20" stroke-width="0.2">Idh3a</text>
<line x1="228.80" y1="320.90" x2="228.80" y2="319.18" stroke="#231f20" stroke-width="0.85" stroke-linecap="butt"/>
<line x1="227.25" y1="319.18" x2="230.35" y2="319.18" stroke="#231f20" stroke-width="0.85" stroke-linecap="butt"/>
<rect x="226.45" y="320.90" width="4.70" height="7.80" fill="#a6072e" />
<line x1="228.80" y1="328.70" x2="228.80" y2="331.10" stroke="#231f20" stroke-width="0.8" stroke-linecap="butt"/>
<text transform="translate(231.10,339.30) rotate(-45)" font-size="7.1" text-anchor="end" fill="#231f20" textLength="16.35" lengthAdjust="spacingAndGlyphs" stroke="#231f20" stroke-width="0.2">Idh3b</text>
<line x1="237.20" y1="320.43" x2="237.20" y2="318.17" stroke="#231f20" stroke-width="0.85" stroke-linecap="butt"/>
<line x1="235.65" y1="318.17" x2="238.75" y2="318.17" stroke="#231f20" stroke-width="0.85" stroke-linecap="butt"/>
<rect x="234.85" y="320.43" width="4.70" height="8.27" fill="#a6072e" />
<line x1="237.20" y1="328.70" x2="237.20" y2="331.10" stroke="#231f20" stroke-width="0.8" stroke-linecap="butt"/>
<text transform="translate(239.50,339.30) rotate(-45)" font-size="7.1" text-anchor="end" fill="#231f20" textLength="16.35" lengthAdjust="spacingAndGlyphs" stroke="#231f20" stroke-width="0.2">Idh3g</text>
<line x1="245.60" y1="319.18" x2="245.60" y2="314.43" stroke="#231f20" stroke-width="0.85" stroke-linecap="butt"/>
<line x1="244.05" y1="314.43" x2="247.15" y2="314.43" stroke="#231f20" stroke-width="0.85" stroke-linecap="butt"/>
<rect x="243.25" y="319.18" width="4.70" height="9.52" fill="#a6072e" />
<line x1="245.60" y1="328.70" x2="245.60" y2="331.10" stroke="#231f20" stroke-width="0.8" stroke-linecap="butt"/>
<text transform="translate(247.90,339.30) rotate(-45)" font-size="7.1" text-anchor="end" fill="#231f20" textLength="14.89" lengthAdjust="spacingAndGlyphs" stroke="#231f20" stroke-width="0.2">Aco2</text>
<line x1="254.00" y1="296.72" x2="254.00" y2="285.49" stroke="#231f20" stroke-width="0.85" stroke-linecap="butt"/>
<line x1="252.45" y1="285.49" x2="255.55" y2="285.49" stroke="#231f20" stroke-width="0.85" stroke-linecap="butt"/>
<rect x="251.65" y="296.72" width="4.70" height="31.98" fill="#a6072e" />
<line x1="254.00" y1="328.70" x2="254.00" y2="331.10" stroke="#231f20" stroke-width="0.8" stroke-linecap="butt"/>
<text transform="translate(256.30,339.30) rotate(-45)" font-size="7.1" text-anchor="end" fill="#231f20" textLength="11.26" lengthAdjust="spacingAndGlyphs" stroke="#231f20" stroke-width="0.2">Fh1</text>
<circle cx="253.05" cy="281.69" r="0.7" fill="#231f20"/>
<circle cx="254.95" cy="281.69" r="0.7" fill="#231f20"/>
<line x1="262.40" y1="317.94" x2="262.40" y2="313.18" stroke="#231f20" stroke-width="0.85" stroke-linecap="butt"/>
<line x1="260.85" y1="313.18" x2="263.95" y2="313.18" stroke="#231f20" stroke-width="0.85" stroke-linecap="butt"/>
<rect x="260.05" y="317.94" width="4.70" height="10.76" fill="#a6072e" />
<line x1="262.40" y1="328.70" x2="262.40" y2="331.10" stroke="#231f20" stroke-width="0.8" stroke-linecap="butt"/>
<text transform="translate(264.70,339.30) rotate(-45)" font-size="7.1" text-anchor="end" fill="#231f20" textLength="18.88" lengthAdjust="spacingAndGlyphs" stroke="#231f20" stroke-width="0.2">Cox18</text>
<line x1="270.80" y1="304.21" x2="270.80" y2="300.93" stroke="#231f20" stroke-width="0.85" stroke-linecap="butt"/>
<line x1="269.25" y1="300.93" x2="272.35" y2="300.93" stroke="#231f20" stroke-width="0.85" stroke-linecap="butt"/>
<rect x="268.45" y="304.21" width="4.70" height="24.49" fill="#a6072e" />
<line x1="270.80" y1="328.70" x2="270.80" y2="331.10" stroke="#231f20" stroke-width="0.8" stroke-linecap="butt"/>
<text transform="translate(273.10,339.30) rotate(-45)" font-size="7.1" text-anchor="end" fill="#231f20" textLength="22.51" lengthAdjust="spacingAndGlyphs" stroke="#231f20" stroke-width="0.2">Cox6b1</text>
<circle cx="268.90" cy="294.53" r="0.7" fill="#231f20"/>
<circle cx="270.80" cy="294.53" r="0.7" fill="#231f20"/>
<circle cx="272.70" cy="294.53" r="0.7" fill="#231f20"/>
<line x1="279.20" y1="304.21" x2="279.20" y2="300.93" stroke="#231f20" stroke-width="0.85" stroke-linecap="butt"/>
<line x1="277.65" y1="300.93" x2="280.75" y2="300.93" stroke="#231f20" stroke-width="0.85" stroke-linecap="butt"/>
<rect x="276.85" y="304.21" width="4.70" height="24.49" fill="#a6072e" />
<line x1="279.20" y1="328.70" x2="279.20" y2="331.10" stroke="#231f20" stroke-width="0.8" stroke-linecap="butt"/>
<text transform="translate(281.50,339.30) rotate(-45)" font-size="7.1" text-anchor="end" fill="#231f20" textLength="21.06" lengthAdjust="spacingAndGlyphs" stroke="#231f20" stroke-width="0.2">Ndufb5</text>
<circle cx="277.30" cy="297.13" r="0.7" fill="#231f20"/>
<circle cx="279.20" cy="297.13" r="0.7" fill="#231f20"/>
<circle cx="281.10" cy="297.13" r="0.7" fill="#231f20"/>
<line x1="287.60" y1="316.22" x2="287.60" y2="312.48" stroke="#231f20" stroke-width="0.85" stroke-linecap="butt"/>
<line x1="286.05" y1="312.48" x2="289.15" y2="312.48" stroke="#231f20" stroke-width="0.85" stroke-linecap="butt"/>
<rect x="285.25" y="316.22" width="4.70" height="12.48" fill="#a6072e" />
<line x1="287.60" y1="328.70" x2="287.60" y2="331.10" stroke="#231f20" stroke-width="0.8" stroke-linecap="butt"/>
<text transform="translate(289.90,339.30) rotate(-45)" font-size="7.1" text-anchor="end" fill="#231f20" textLength="17.07" lengthAdjust="spacingAndGlyphs" stroke="#231f20" stroke-width="0.2">Atp5o</text>
<circle cx="286.65" cy="308.68" r="0.7" fill="#231f20"/>
<circle cx="288.55" cy="308.68" r="0.7" fill="#231f20"/>
<line x1="296.00" y1="314.66" x2="296.00" y2="311.93" stroke="#231f20" stroke-width="0.85" stroke-linecap="butt"/>
<line x1="294.45" y1="311.93" x2="297.55" y2="311.93" stroke="#231f20" stroke-width="0.85" stroke-linecap="butt"/>
<rect x="293.65" y="314.66" width="4.70" height="14.04" fill="#a6072e" />
<line x1="296.00" y1="328.70" x2="296.00" y2="331.10" stroke="#231f20" stroke-width="0.8" stroke-linecap="butt"/>
<text transform="translate(298.30,339.30) rotate(-45)" font-size="7.1" text-anchor="end" fill="#231f20" textLength="14.89" lengthAdjust="spacingAndGlyphs" stroke="#231f20" stroke-width="0.2">Atp5l</text>
<circle cx="295.05" cy="308.13" r="0.7" fill="#231f20"/>
<circle cx="296.95" cy="308.13" r="0.7" fill="#231f20"/>
<line x1="304.40" y1="321.21" x2="304.40" y2="318.95" stroke="#231f20" stroke-width="0.85" stroke-linecap="butt"/>
<line x1="302.85" y1="318.95" x2="305.95" y2="318.95" stroke="#231f20" stroke-width="0.85" stroke-linecap="butt"/>
<rect x="302.05" y="321.21" width="4.70" height="7.49" fill="#a6072e" />
<line x1="304.40" y1="328.70" x2="304.40" y2="331.10" stroke="#231f20" stroke-width="0.8" stroke-linecap="butt"/>
<text transform="translate(306.70,339.30) rotate(-45)" font-size="7.1" text-anchor="end" fill="#231f20" textLength="15.98" lengthAdjust="spacingAndGlyphs" stroke="#231f20" stroke-width="0.2">G6pd</text>
<line x1="312.80" y1="321.91" x2="312.80" y2="320.43" stroke="#231f20" stroke-width="0.85" stroke-linecap="butt"/>
<line x1="311.25" y1="320.43" x2="314.35" y2="320.43" stroke="#231f20" stroke-width="0.85" stroke-linecap="butt"/>
<rect x="310.45" y="321.91" width="4.70" height="6.79" fill="#a6072e" />
<line x1="312.80" y1="328.70" x2="312.80" y2="331.10" stroke="#231f20" stroke-width="0.8" stroke-linecap="butt"/>
<text transform="translate(315.10,339.30) rotate(-45)" font-size="7.1" text-anchor="end" fill="#231f20" textLength="11.62" lengthAdjust="spacingAndGlyphs" stroke="#231f20" stroke-width="0.2">Pgd</text>
<line x1="321.20" y1="320.43" x2="321.20" y2="317.23" stroke="#231f20" stroke-width="0.85" stroke-linecap="butt"/>
<line x1="319.65" y1="317.23" x2="322.75" y2="317.23" stroke="#231f20" stroke-width="0.85" stroke-linecap="butt"/>
<rect x="318.85" y="320.43" width="4.70" height="8.27" fill="#a6072e" />
<line x1="321.20" y1="328.70" x2="321.20" y2="331.10" stroke="#231f20" stroke-width="0.8" stroke-linecap="butt"/>
<text transform="translate(323.50,339.30) rotate(-45)" font-size="7.1" text-anchor="end" fill="#231f20" textLength="9.80" lengthAdjust="spacingAndGlyphs" stroke="#231f20" stroke-width="0.2">Gls</text>
<line x1="329.60" y1="317.47" x2="329.60" y2="313.18" stroke="#231f20" stroke-width="0.85" stroke-linecap="butt"/>
<line x1="328.05" y1="313.18" x2="331.15" y2="313.18" stroke="#231f20" stroke-width="0.85" stroke-linecap="butt"/>
<rect x="327.25" y="317.47" width="4.70" height="11.23" fill="#a6072e" />
<line x1="329.60" y1="328.70" x2="329.60" y2="331.10" stroke="#231f20" stroke-width="0.8" stroke-linecap="butt"/>
<text transform="translate(331.90,339.30) rotate(-45)" font-size="7.1" text-anchor="end" fill="#231f20" textLength="12.35" lengthAdjust="spacingAndGlyphs" stroke="#231f20" stroke-width="0.2">Gdh</text>
<line x1="338.00" y1="321.68" x2="338.00" y2="320.20" stroke="#231f20" stroke-width="0.85" stroke-linecap="butt"/>
<line x1="336.45" y1="320.20" x2="339.55" y2="320.20" stroke="#231f20" stroke-width="0.85" stroke-linecap="butt"/>
<rect x="335.65" y="321.68" width="4.70" height="7.02" fill="#a6072e" />
<line x1="338.00" y1="328.70" x2="338.00" y2="331.10" stroke="#231f20" stroke-width="0.8" stroke-linecap="butt"/>
<text transform="translate(340.30,339.30) rotate(-45)" font-size="7.1" text-anchor="end" fill="#231f20" textLength="18.89" lengthAdjust="spacingAndGlyphs" stroke="#231f20" stroke-width="0.2">Phgdh</text>
<line x1="39.50" y1="328.70" x2="343.50" y2="328.70" stroke="#101010" stroke-width="1.2" stroke-linecap="butt"/>
<line x1="43.75" y1="253.50" x2="123.00" y2="253.50" stroke="#3a3a3a" stroke-width="1.1" stroke-linecap="butt"/>
<line x1="126.75" y1="253.50" x2="152.50" y2="253.50" stroke="#3a3a3a" stroke-width="1.1" stroke-linecap="butt"/>
<line x1="161.25" y1="253.50" x2="173.00" y2="253.50" stroke="#3a3a3a" stroke-width="1.1" stroke-linecap="butt"/>
<line x1="178.75" y1="253.50" x2="296.25" y2="253.50" stroke="#3a3a3a" stroke-width="1.1" stroke-linecap="butt"/>
<line x1="303.25" y1="253.50" x2="316.75" y2="253.50" stroke="#3a3a3a" stroke-width="1.1" stroke-linecap="butt"/>
<line x1="321.25" y1="253.50" x2="343.75" y2="253.50" stroke="#3a3a3a" stroke-width="1.1" stroke-linecap="butt"/>
<text transform="translate(72.50,251.50) rotate(-45)" font-size="7.0" text-anchor="start" fill="#231f20" textLength="30.72" lengthAdjust="spacingAndGlyphs" stroke="#231f20" stroke-width="0.18">Glycolysis</text>
<text transform="translate(131.50,248.50) rotate(-45)" font-size="7.0" text-anchor="start" fill="#231f20" textLength="51.98" lengthAdjust="spacingAndGlyphs" stroke="#231f20" stroke-width="0.18">Monocarboxylate</text>
<text transform="translate(145.00,248.50) rotate(-45)" font-size="7.0" text-anchor="start" fill="#231f20" textLength="33.00" lengthAdjust="spacingAndGlyphs" stroke="#231f20" stroke-width="0.18">transporter</text>
<text transform="translate(165.00,247.30) rotate(-45)" font-size="7.0" text-anchor="start" fill="#231f20" textLength="20.49" lengthAdjust="spacingAndGlyphs" stroke="#231f20" stroke-width="0.18">Malate</text>
<text transform="translate(171.30,252.00) rotate(-45)" font-size="7.0" text-anchor="start" fill="#231f20" textLength="20.11" lengthAdjust="spacingAndGlyphs" stroke="#231f20" stroke-width="0.18">shuttle</text>
<text transform="translate(236.50,238.50) rotate(-45)" font-size="7.0" text-anchor="start" fill="#231f20" textLength="28.45" lengthAdjust="spacingAndGlyphs" stroke="#231f20" stroke-width="0.18">Oxidative</text>
<text transform="translate(235.50,251.00) rotate(-45)" font-size="7.0" text-anchor="start" fill="#231f20" textLength="48.19" lengthAdjust="spacingAndGlyphs" stroke="#231f20" stroke-width="0.18">phosphorylation</text>
<text transform="translate(309.30,251.00) rotate(-45)" font-size="7.0" text-anchor="start" fill="#231f20" textLength="13.66" lengthAdjust="spacingAndGlyphs" stroke="#231f20" stroke-width="0.18">PPP</text>
<text transform="translate(328.80,237.20) rotate(-45)" font-size="7.0" text-anchor="start" fill="#231f20" textLength="31.11" lengthAdjust="spacingAndGlyphs" stroke="#231f20" stroke-width="0.18">Glutamine</text>
<text transform="translate(335.00,243.60) rotate(-45)" font-size="7.0" text-anchor="start" fill="#231f20" textLength="31.87" lengthAdjust="spacingAndGlyphs" stroke="#231f20" stroke-width="0.18">and serine</text>
<text transform="translate(340.30,250.00) rotate(-45)" font-size="7.0" text-anchor="start" fill="#231f20" textLength="34.90" lengthAdjust="spacingAndGlyphs" stroke="#231f20" stroke-width="0.18">metabolism</text>
<text transform="translate(14.40,288.20) rotate(-90)" font-size="8.3" text-anchor="middle" fill="#231f20" textLength="59.50" lengthAdjust="spacingAndGlyphs">Relative expression</text>
<text transform="translate(24.60,288.50) rotate(-90)" font-size="8.3" text-anchor="middle" fill="#231f20" textLength="71.50" lengthAdjust="spacingAndGlyphs">SoNar-FL low/high cells</text>
<defs>
<filter id="bl1" x="-30%" y="-80%" width="160%" height="260%"><feGaussianBlur stdDeviation="0.9 0.6"/></filter>
<filter id="bl2" x="-30%" y="-80%" width="160%" height="260%"><feGaussianBlur stdDeviation="0.7 0.45"/></filter>
<filter id="blc" x="-30%" y="-30%" width="160%" height="160%"><feGaussianBlur stdDeviation="0.45"/></filter>
<filter id="mott1" x="-20%" y="-20%" width="140%" height="140%">
<feTurbulence type="fractalNoise" baseFrequency="0.4" numOctaves="2" seed="9" result="n"/>
<feColorMatrix in="n" type="matrix" values="0 0 0 0 1  0 0 0 0 1  0 0 0 0 1  2.2 0 0 0 -0.1" result="na"/>
<feComposite in="SourceGraphic" in2="na" operator="in" result="c"/>
<feGaussianBlur in="c" stdDeviation="0.42"/>
</filter>
<filter id="mott" x="-20%" y="-20%" width="140%" height="140%">
<feTurbulence type="fractalNoise" baseFrequency="0.38" numOctaves="2" seed="4" result="n"/>
<feColorMatrix in="n" type="matrix" values="0 0 0 0 1  0 0 0 0 1  0 0 0 0 1  2.6 0 0 0 -0.55" result="na"/>
<feComposite in="SourceGraphic" in2="na" operator="in" result="c"/>
<feGaussianBlur in="c" stdDeviation="0.42"/>
</filter>
<linearGradient id="rainbow" x1="0" x2="1" y1="0" y2="0">
<stop offset="0" stop-color="#8a2a9c"/><stop offset="0.1" stop-color="#2a2a9c"/><stop offset="0.24" stop-color="#1e58cc"/>
<stop offset="0.38" stop-color="#36aed2"/><stop offset="0.5" stop-color="#44a848"/><stop offset="0.66" stop-color="#6cb42c"/>
<stop offset="0.78" stop-color="#e6de22"/><stop offset="0.88" stop-color="#ee801a"/><stop offset="1" stop-color="#c01212"/></linearGradient>
</defs>
<text transform="translate(375.40,216.93)" font-size="12.5" text-anchor="start" fill="#000" font-weight="bold">D</text>
<rect x="396.10" y="248.00" width="83.90" height="12.80" fill="#eaeaea" stroke="#909090" stroke-width="0.6" />
<rect x="396.10" y="263.20" width="83.90" height="11.50" fill="#eaeaea" stroke="#909090" stroke-width="0.6" />
<rect x="399.85" y="254.60" width="8.80" height="1.60" rx="0.80" ry="0.80" fill="#0c0c0c" opacity="0.6" filter="url(#bl1)"/>
<rect x="412.15" y="254.20" width="9.20" height="2.00" rx="1.00" ry="1.00" fill="#0c0c0c" opacity="0.8" filter="url(#bl1)"/>
<rect x="425.00" y="253.70" width="10.00" height="2.20" rx="1.10" ry="1.10" fill="#0c0c0c" opacity="0.92" filter="url(#bl1)"/>
<rect x="437.95" y="252.80" width="12.60" height="3.20" rx="1.60" ry="1.60" fill="#0c0c0c" opacity="1.0" filter="url(#bl1)"/>
<rect x="450.75" y="253.00" width="12.00" height="3.00" rx="1.50" ry="1.50" fill="#0c0c0c" opacity="1.0" filter="url(#bl1)"/>
<rect x="464.00" y="253.20" width="12.00" height="3.00" rx="1.50" ry="1.50" fill="#0c0c0c" opacity="1.0" filter="url(#bl1)"/>
<rect x="398.85" y="267.85" width="10.80" height="2.70" rx="1.35" ry="1.35" fill="#0c0c0c" opacity="1.0" filter="url(#bl1)"/>
<rect x="411.35" y="268.35" width="10.80" height="2.70" rx="1.35" ry="1.35" fill="#0c0c0c" opacity="1.0" filter="url(#bl1)"/>
<rect x="424.60" y="268.65" width="10.80" height="2.70" rx="1.35" ry="1.35" fill="#0c0c0c" opacity="1.0" filter="url(#bl1)"/>
<rect x="438.85" y="269.25" width="10.80" height="2.70" rx="1.35" ry="1.35" fill="#0c0c0c" opacity="1.0" filter="url(#bl1)"/>
<rect x="451.35" y="269.35" width="10.80" height="2.70" rx="1.35" ry="1.35" fill="#0c0c0c" opacity="1.0" filter="url(#bl1)"/>
<rect x="464.60" y="269.65" width="10.80" height="2.70" rx="1.35" ry="1.35" fill="#0c0c0c" opacity="1.0" filter="url(#bl1)"/>
<text transform="translate(404.25,246.24)" font-size="5.7" text-anchor="middle" fill="#231f20" textLength="11.54" lengthAdjust="spacingAndGlyphs">1.00</text>
<text transform="translate(404.75,238.90) rotate(-45)" font-size="6.9" text-anchor="start" fill="#231f20" textLength="39.60" lengthAdjust="spacingAndGlyphs" stroke="#231f20" stroke-width="0.15">SoNar-high#1</text>
<text transform="translate(416.75,246.24)" font-size="5.7" text-anchor="middle" fill="#231f20" textLength="11.54" lengthAdjust="spacingAndGlyphs">1.67</text>
<text transform="translate(417.25,238.90) rotate(-45)" font-size="6.9" text-anchor="start" fill="#231f20" textLength="39.60" lengthAdjust="spacingAndGlyphs" stroke="#231f20" stroke-width="0.15">SoNar-high#2</text>
<text transform="translate(430.00,246.24)" font-size="5.7" text-anchor="middle" fill="#231f20" textLength="11.54" lengthAdjust="spacingAndGlyphs">2.50</text>
<text transform="translate(430.50,238.90) rotate(-45)" font-size="6.9" text-anchor="start" fill="#231f20" textLength="39.60" lengthAdjust="spacingAndGlyphs" stroke="#231f20" stroke-width="0.15">SoNar-high#3</text>
<text transform="translate(444.25,246.24)" font-size="5.7" text-anchor="middle" fill="#231f20" textLength="11.54" lengthAdjust="spacingAndGlyphs">9.97</text>
<text transform="translate(444.75,238.90) rotate(-45)" font-size="6.9" text-anchor="start" fill="#231f20" textLength="37.09" lengthAdjust="spacingAndGlyphs" stroke="#231f20" stroke-width="0.15">SoNar-low#1</text>
<text transform="translate(456.75,246.24)" font-size="5.7" text-anchor="middle" fill="#231f20" textLength="11.54" lengthAdjust="spacingAndGlyphs">8.75</text>
<text transform="translate(457.25,238.90) rotate(-45)" font-size="6.9" text-anchor="start" fill="#231f20" textLength="37.09" lengthAdjust="spacingAndGlyphs" stroke="#231f20" stroke-width="0.15">SoNar-low#2</text>
<text transform="translate(470.00,246.24)" font-size="5.7" text-anchor="middle" fill="#231f20" textLength="11.54" lengthAdjust="spacingAndGlyphs">9.73</text>
<text transform="translate(470.50,238.90) rotate(-45)" font-size="6.9" text-anchor="start" fill="#231f20" textLength="37.09" lengthAdjust="spacingAndGlyphs" stroke="#231f20" stroke-width="0.15">SoNar-low#3</text>
<text transform="translate(394.40,258.77)" font-size="6.9" text-anchor="end" fill="#231f20" textLength="18.40" lengthAdjust="spacingAndGlyphs">MDH1</text>
<text transform="translate(394.80,271.47)" font-size="6.9" text-anchor="end" fill="#231f20" textLength="19.40" lengthAdjust="spacingAndGlyphs">β-actin</text>
<text transform="translate(375.40,296.43)" font-size="12.5" text-anchor="start" fill="#000" font-weight="bold">E</text>
<rect x="403.50" y="322.50" width="21.00" height="39.90" fill="#a6072e" />
<line x1="414.00" y1="322.50" x2="414.00" y2="320.50" stroke="#231f20" stroke-width="1.1" stroke-linecap="butt"/>
<line x1="408.75" y1="320.50" x2="419.25" y2="320.50" stroke="#231f20" stroke-width="1.1" stroke-linecap="butt"/>
<rect x="435.50" y="330.75" width="21.00" height="31.65" fill="#2b497f" />
<line x1="446.00" y1="330.75" x2="446.00" y2="328.75" stroke="#231f20" stroke-width="1.1" stroke-linecap="butt"/>
<line x1="440.75" y1="328.75" x2="451.25" y2="328.75" stroke="#231f20" stroke-width="1.1" stroke-linecap="butt"/>
<line x1="397.50" y1="303.00" x2="397.50" y2="362.90" stroke="#101010" stroke-width="1.4" stroke-linecap="butt"/>
<line x1="397.00" y1="362.40" x2="463.00" y2="362.40" stroke="#101010" stroke-width="1.4" stroke-linecap="butt"/>
<line x1="394.90" y1="348.30" x2="397.50" y2="348.30" stroke="#231f20" stroke-width="0.8" stroke-linecap="butt"/>
<text transform="translate(392.20,350.84)" font-size="7.1" text-anchor="end" fill="#231f20" textLength="3.95" lengthAdjust="spacingAndGlyphs">2</text>
<line x1="394.90" y1="334.20" x2="397.50" y2="334.20" stroke="#231f20" stroke-width="0.8" stroke-linecap="butt"/>
<text transform="translate(392.20,336.74)" font-size="7.1" text-anchor="end" fill="#231f20" textLength="3.95" lengthAdjust="spacingAndGlyphs">4</text>
<line x1="394.90" y1="320.10" x2="397.50" y2="320.10" stroke="#231f20" stroke-width="0.8" stroke-linecap="butt"/>
<text transform="translate(392.20,322.64)" font-size="7.1" text-anchor="end" fill="#231f20" textLength="3.95" lengthAdjust="spacingAndGlyphs">6</text>
<line x1="394.90" y1="306.00" x2="397.50" y2="306.00" stroke="#231f20" stroke-width="0.8" stroke-linecap="butt"/>
<text transform="translate(392.20,308.54)" font-size="7.1" text-anchor="end" fill="#231f20" textLength="3.95" lengthAdjust="spacingAndGlyphs">8</text>
<line x1="414.00" y1="362.40" x2="414.00" y2="364.60" stroke="#231f20" stroke-width="0.8" stroke-linecap="butt"/>
<line x1="446.00" y1="362.40" x2="446.00" y2="364.60" stroke="#231f20" stroke-width="0.8" stroke-linecap="butt"/>
<rect x="399.90" y="305.50" width="6.70" height="3.70" fill="#a6072e" />
<rect x="399.90" y="311.90" width="6.70" height="3.70" fill="#2b497f" />
<text transform="translate(408.90,309.65)" font-size="6.0" text-anchor="start" fill="#231f20" textLength="47.30" lengthAdjust="spacingAndGlyphs">FL-HSCs/Total cells</text>
<text transform="translate(408.90,316.05)" font-size="6.0" text-anchor="start" fill="#231f20" textLength="53.80" lengthAdjust="spacingAndGlyphs">SoNar-low/high HSCs</text>
<text transform="translate(383.00,332.00) rotate(-90)" font-size="8.6" text-anchor="middle" fill="#231f20" textLength="56.00" lengthAdjust="spacingAndGlyphs">Mdh1 mRNA level</text>
<text transform="translate(6.50,424.93)" font-size="12.5" text-anchor="start" fill="#000" font-weight="bold">F</text>
<text transform="translate(30.00,433.70)" font-size="6.7" text-anchor="middle" fill="#231f20" textLength="27.50" lengthAdjust="spacingAndGlyphs">Scramble</text>
<text transform="translate(70.75,433.70)" font-size="6.7" text-anchor="middle" fill="#231f20" textLength="31.50" lengthAdjust="spacingAndGlyphs">shMdh1#2</text>
<text transform="translate(111.25,433.70)" font-size="6.7" text-anchor="middle" fill="#231f20" textLength="31.50" lengthAdjust="spacingAndGlyphs">shMdh1#3</text>
<clipPath id="cp0"><rect x="7.5" y="435" width="40.0" height="41.9"/></clipPath>
<rect x="7.50" y="435.00" width="40.00" height="41.90" fill="#0b0809" />
<clipPath id="cp1"><rect x="49.1" y="435" width="40.0" height="41.9"/></clipPath>
<rect x="49.10" y="435.00" width="40.00" height="41.90" fill="#0b0809" />
<clipPath id="cp2"><rect x="90.7" y="435" width="40.1" height="41.9"/></clipPath>
<rect x="90.70" y="435.00" width="40.10" height="41.90" fill="#0b0809" />
<g clip-path="url(#cp0)">
<ellipse cx="15.5" cy="470.3" rx="3.2" ry="1.8" transform="rotate(-25 15.5 470.3)" fill="#2a6ad0" filter="url(#blc)"/>
<radialGradient id="cg1" cx="0.5" cy="0.5" r="0.5"><stop offset="0" stop-color="#1f2f8a"/><stop offset="0.25" stop-color="#2448b0"/><stop offset="0.55" stop-color="#2a68d0"/><stop offset="0.75" stop-color="#2f9ad8"/><stop offset="0.9" stop-color="#52c898"/><stop offset="1" stop-color="#3a9858"/></radialGradient>
<ellipse transform="translate(27.90,447.80) rotate(-8)" cx="0" cy="0" rx="4.90" ry="7.20" fill="url(#cg1)" opacity="1.0" filter="url(#mott1)"/>
<radialGradient id="cg2" cx="0.5" cy="0.5" r="0.5"><stop offset="0" stop-color="#243a80"/><stop offset="0.45" stop-color="#2a60b8"/><stop offset="0.7" stop-color="#36a8a8"/><stop offset="0.88" stop-color="#70c050"/><stop offset="1" stop-color="#907830"/></radialGradient>
<ellipse transform="translate(12.50,458.40) rotate(0)" cx="0" cy="0" rx="4.60" ry="5.80" fill="url(#cg2)" opacity="1.0" filter="url(#mott1)"/>
<radialGradient id="cg3" cx="0.5" cy="0.5" r="0.5"><stop offset="0" stop-color="#2a62d0"/><stop offset="0.55" stop-color="#2f7ce0"/><stop offset="0.8" stop-color="#38a0e0"/><stop offset="0.93" stop-color="#48c8d8"/><stop offset="1" stop-color="#2a80a0"/></radialGradient>
<ellipse transform="translate(21.00,466.60) rotate(-12)" cx="0" cy="0" rx="7.20" ry="5.60" fill="url(#cg3)" opacity="1.0" filter="url(#mott1)"/>
<radialGradient id="cg4" cx="0.5" cy="0.5" r="0.5"><stop offset="0" stop-color="#2448a8"/><stop offset="0.45" stop-color="#2a6cc8"/><stop offset="0.68" stop-color="#36b0a8"/><stop offset="0.86" stop-color="#86d040"/><stop offset="1" stop-color="#80a030"/></radialGradient>
<ellipse transform="translate(42.40,466.40) rotate(0)" cx="0" cy="0" rx="4.70" ry="5.10" fill="url(#cg4)" opacity="1.0" filter="url(#mott1)"/>
<ellipse cx="46.5" cy="442" rx="2.4" ry="3.4" fill="none" stroke="#6a1216" stroke-width="0.5" opacity="0.7"/>
</g>
<g clip-path="url(#cp1)">
<radialGradient id="cg5" cx="0.5" cy="0.5" r="0.5"><stop offset="0" stop-color="#34404e"/><stop offset="0.3" stop-color="#3868a0"/><stop offset="0.55" stop-color="#3c9c98"/><stop offset="0.78" stop-color="#78bc58"/><stop offset="0.92" stop-color="#c88028"/><stop offset="1" stop-color="#903018"/></radialGradient>
<ellipse transform="translate(81.00,457.50) rotate(0)" cx="0" cy="0" rx="5.60" ry="5.90" fill="url(#cg5)" opacity="1.0" filter="url(#mott)"/>
<radialGradient id="cg6" cx="0.5" cy="0.5" r="0.5"><stop offset="0" stop-color="#181214"/><stop offset="0.4" stop-color="#283230"/><stop offset="0.66" stop-color="#40201e"/><stop offset="0.85" stop-color="#981a20"/><stop offset="1" stop-color="#601014"/></radialGradient>
<ellipse transform="translate(55.70,466.00) rotate(0)" cx="0" cy="0" rx="5.30" ry="5.40" fill="url(#cg6)" opacity="0.9" filter="url(#mott)"/>
<radialGradient id="cg7" cx="0.5" cy="0.5" r="0.5"><stop offset="0" stop-color="#28383a"/><stop offset="0.45" stop-color="#34524c"/><stop offset="0.7" stop-color="#4c2c28"/><stop offset="0.87" stop-color="#8e1e20"/><stop offset="1" stop-color="#581014"/></radialGradient>
<ellipse transform="translate(73.60,469.60) rotate(0)" cx="0" cy="0" rx="5.60" ry="5.70" fill="url(#cg7)" opacity="0.9" filter="url(#mott)"/>
<circle cx="53.5" cy="442.8" r="4.0" fill="none" stroke="#6a1218" stroke-width="0.9" opacity="0.75" filter="url(#blc)"/>
</g>
<g clip-path="url(#cp2)">
<radialGradient id="cg8" cx="0.5" cy="0.5" r="0.5"><stop offset="0" stop-color="#38443e"/><stop offset="0.35" stop-color="#4a6e60"/><stop offset="0.62" stop-color="#58a878"/><stop offset="0.84" stop-color="#90c850"/><stop offset="1" stop-color="#6a8838"/></radialGradient>
<ellipse transform="translate(125.00,455.90) rotate(0)" cx="0" cy="0" rx="5.30" ry="6.80" fill="url(#cg8)" opacity="1.0" filter="url(#mott)"/>
<radialGradient id="cg9" cx="0.5" cy="0.5" r="0.5"><stop offset="0" stop-color="#1e262e"/><stop offset="0.35" stop-color="#284c6c"/><stop offset="0.58" stop-color="#369c9c"/><stop offset="0.77" stop-color="#6cbc60"/><stop offset="0.91" stop-color="#d06a20"/><stop offset="1" stop-color="#902018"/></radialGradient>
<ellipse transform="translate(113.60,468.90) rotate(0)" cx="0" cy="0" rx="6.00" ry="6.20" fill="url(#cg9)" opacity="1.0" filter="url(#mott)"/>
<radialGradient id="cg10" cx="0.5" cy="0.5" r="0.5"><stop offset="0" stop-color="#263038"/><stop offset="0.42" stop-color="#386c68"/><stop offset="0.66" stop-color="#6c9c40"/><stop offset="0.86" stop-color="#c04420"/><stop offset="1" stop-color="#801a16"/></radialGradient>
<ellipse transform="translate(94.60,469.70) rotate(0)" cx="0" cy="0" rx="4.70" ry="4.80" fill="url(#cg10)" opacity="1.0" filter="url(#mott)"/>
<circle cx="102" cy="461" r="3.6" fill="none" stroke="#50101a" stroke-width="0.6" opacity="0.6" filter="url(#blc)"/>
<rect x="119.10" y="472.60" width="9.80" height="1.20" fill="#fff" />
</g>
<text transform="translate(8.75,485.83)" font-size="6.8" text-anchor="start" fill="#231f20" textLength="59.20" lengthAdjust="spacingAndGlyphs">Ratio F405/F488 nm</text>
<rect x="10.50" y="488.60" width="50.30" height="3.20" fill="url(#rainbow)" />
<text transform="translate(10.00,498.81)" font-size="7.0" text-anchor="middle" fill="#231f20" textLength="9.24" lengthAdjust="spacingAndGlyphs">0.0</text>
<text transform="translate(23.50,498.81)" font-size="7.0" text-anchor="middle" fill="#231f20" textLength="9.24" lengthAdjust="spacingAndGlyphs">0.5</text>
<text transform="translate(35.75,498.81)" font-size="7.0" text-anchor="middle" fill="#231f20" textLength="3.70" lengthAdjust="spacingAndGlyphs">1</text>
<text transform="translate(47.75,498.81)" font-size="7.0" text-anchor="middle" fill="#231f20" textLength="9.24" lengthAdjust="spacingAndGlyphs">1.5</text>
<text transform="translate(60.25,498.81)" font-size="7.0" text-anchor="middle" fill="#231f20" textLength="9.24" lengthAdjust="spacingAndGlyphs">2.0</text>
<text transform="translate(140.00,402.38)" font-size="12.5" text-anchor="start" fill="#000" font-weight="bold">G</text>
<line x1="168.10" y1="423.75" x2="168.10" y2="488.00" stroke="#101010" stroke-width="1.4" stroke-linecap="butt"/>
<line x1="167.60" y1="487.50" x2="232.50" y2="487.50" stroke="#101010" stroke-width="1.4" stroke-linecap="butt"/>
<line x1="165.10" y1="481.00" x2="168.10" y2="481.00" stroke="#231f20" stroke-width="0.9" stroke-linecap="butt"/>
<text transform="translate(162.00,483.58)" font-size="7.2" text-anchor="end" fill="#231f20" textLength="9.71" lengthAdjust="spacingAndGlyphs">0.0</text>
<line x1="165.10" y1="467.10" x2="168.10" y2="467.10" stroke="#231f20" stroke-width="0.9" stroke-linecap="butt"/>
<text transform="translate(162.00,469.68)" font-size="7.2" text-anchor="end" fill="#231f20" textLength="9.71" lengthAdjust="spacingAndGlyphs">0.5</text>
<line x1="165.10" y1="453.20" x2="168.10" y2="453.20" stroke="#231f20" stroke-width="0.9" stroke-linecap="butt"/>
<text transform="translate(162.00,455.78)" font-size="7.2" text-anchor="end" fill="#231f20" textLength="9.71" lengthAdjust="spacingAndGlyphs">1.0</text>
<line x1="165.10" y1="439.30" x2="168.10" y2="439.30" stroke="#231f20" stroke-width="0.9" stroke-linecap="butt"/>
<text transform="translate(162.00,441.88)" font-size="7.2" text-anchor="end" fill="#231f20" textLength="9.71" lengthAdjust="spacingAndGlyphs">1.5</text>
<line x1="165.10" y1="425.40" x2="168.10" y2="425.40" stroke="#231f20" stroke-width="0.9" stroke-linecap="butt"/>
<text transform="translate(162.00,427.98)" font-size="7.2" text-anchor="end" fill="#231f20" textLength="9.71" lengthAdjust="spacingAndGlyphs">2.0</text>
<text transform="translate(147.60,453.40) rotate(-90)" font-size="8.3" text-anchor="middle" fill="#231f20" textLength="68.50" lengthAdjust="spacingAndGlyphs">Ratio (F405/F488 nm)</text>
<circle cx="182.44" cy="432.44" r="1.25" fill="none" stroke="#bf7f30" stroke-width="1.0"/>
<circle cx="180.41" cy="434.59" r="1.25" fill="none" stroke="#bf7f30" stroke-width="1.0"/>
<circle cx="184.34" cy="436.24" r="1.25" fill="none" stroke="#bf7f30" stroke-width="1.0"/>
<circle cx="178.63" cy="444.75" r="1.25" fill="none" stroke="#bf7f30" stroke-width="1.0"/>
<circle cx="186.24" cy="445.38" r="1.25" fill="none" stroke="#bf7f30" stroke-width="1.0"/>
<circle cx="182.44" cy="447.28" r="1.25" fill="none" stroke="#bf7f30" stroke-width="1.0"/>
<circle cx="180.79" cy="448.55" r="1.25" fill="none" stroke="#bf7f30" stroke-width="1.0"/>
<circle cx="186.50" cy="451.09" r="1.25" fill="none" stroke="#bf7f30" stroke-width="1.0"/>
<circle cx="178.88" cy="453.25" r="1.25" fill="none" stroke="#bf7f30" stroke-width="1.0"/>
<circle cx="184.97" cy="452.74" r="1.25" fill="none" stroke="#bf7f30" stroke-width="1.0"/>
<circle cx="183.10" cy="458.83" r="1.25" fill="none" stroke="#bf7f30" stroke-width="1.0"/>
<circle cx="182.23" cy="463.86" r="1.25" fill="none" stroke="#bf7f30" stroke-width="1.0"/>
<circle cx="182.57" cy="455.98" r="1.25" fill="none" stroke="#bf7f30" stroke-width="1.0"/>
<circle cx="185.12" cy="460.72" r="1.25" fill="none" stroke="#bf7f30" stroke-width="1.0"/>
<circle cx="180.24" cy="455.01" r="1.25" fill="none" stroke="#bf7f30" stroke-width="1.0"/>
<circle cx="185.89" cy="454.98" r="1.25" fill="none" stroke="#bf7f30" stroke-width="1.0"/>
<circle cx="178.57" cy="461.40" r="1.25" fill="none" stroke="#bf7f30" stroke-width="1.0"/>
<circle cx="184.86" cy="464.48" r="1.25" fill="none" stroke="#bf7f30" stroke-width="1.0"/>
<circle cx="177.02" cy="455.69" r="1.25" fill="none" stroke="#bf7f30" stroke-width="1.0"/>
<circle cx="177.90" cy="459.64" r="1.25" fill="none" stroke="#bf7f30" stroke-width="1.0"/>
<circle cx="182.03" cy="454.33" r="1.25" fill="none" stroke="#bf7f30" stroke-width="1.0"/>
<circle cx="186.26" cy="458.71" r="1.25" fill="none" stroke="#bf7f30" stroke-width="1.0"/>
<circle cx="179.98" cy="458.89" r="1.25" fill="none" stroke="#bf7f30" stroke-width="1.0"/>
<circle cx="183.85" cy="462.97" r="1.25" fill="none" stroke="#bf7f30" stroke-width="1.0"/>
<circle cx="181.68" cy="462.18" r="1.25" fill="none" stroke="#bf7f30" stroke-width="1.0"/>
<circle cx="183.88" cy="454.79" r="1.25" fill="none" stroke="#bf7f30" stroke-width="1.0"/>
<circle cx="187.90" cy="455.08" r="1.25" fill="none" stroke="#bf7f30" stroke-width="1.0"/>
<circle cx="178.97" cy="456.67" r="1.25" fill="none" stroke="#bf7f30" stroke-width="1.0"/>
<circle cx="184.72" cy="456.55" r="1.25" fill="none" stroke="#bf7f30" stroke-width="1.0"/>
<circle cx="180.39" cy="460.56" r="1.25" fill="none" stroke="#bf7f30" stroke-width="1.0"/>
<circle cx="188.01" cy="457.41" r="1.25" fill="none" stroke="#bf7f30" stroke-width="1.0"/>
<circle cx="185.48" cy="462.47" r="1.25" fill="none" stroke="#bf7f30" stroke-width="1.0"/>
<circle cx="179.48" cy="463.31" r="1.25" fill="none" stroke="#bf7f30" stroke-width="1.0"/>
<circle cx="180.71" cy="456.91" r="1.25" fill="none" stroke="#bf7f30" stroke-width="1.0"/>
<circle cx="202.36" cy="426.35" r="1.25" fill="none" stroke="#bd1238" stroke-width="1.0"/>
<circle cx="202.36" cy="431.42" r="1.25" fill="none" stroke="#bd1238" stroke-width="1.0"/>
<circle cx="202.36" cy="435.86" r="1.25" fill="none" stroke="#bd1238" stroke-width="1.0"/>
<circle cx="197.28" cy="437.13" r="1.25" fill="none" stroke="#bd1238" stroke-width="1.0"/>
<circle cx="207.44" cy="438.40" r="1.25" fill="none" stroke="#bd1238" stroke-width="1.0"/>
<circle cx="200.46" cy="440.30" r="1.25" fill="none" stroke="#bd1238" stroke-width="1.0"/>
<circle cx="204.26" cy="440.30" r="1.25" fill="none" stroke="#bd1238" stroke-width="1.0"/>
<circle cx="203.63" cy="444.75" r="1.25" fill="none" stroke="#bd1238" stroke-width="1.0"/>
<circle cx="200.46" cy="446.65" r="1.25" fill="none" stroke="#bd1238" stroke-width="1.0"/>
<circle cx="206.80" cy="447.28" r="1.25" fill="none" stroke="#bd1238" stroke-width="1.0"/>
<circle cx="197.66" cy="450.46" r="1.25" fill="none" stroke="#bd1238" stroke-width="1.0"/>
<circle cx="207.44" cy="451.73" r="1.25" fill="none" stroke="#bd1238" stroke-width="1.0"/>
<circle cx="204.26" cy="460.36" r="1.25" fill="none" stroke="#bd1238" stroke-width="1.0"/>
<circle cx="200.46" cy="463.40" r="1.25" fill="none" stroke="#bd1238" stroke-width="1.0"/>
<circle cx="201.89" cy="456.37" r="1.25" fill="none" stroke="#bd1238" stroke-width="1.0"/>
<circle cx="204.01" cy="455.48" r="1.25" fill="none" stroke="#bd1238" stroke-width="1.0"/>
<circle cx="204.84" cy="453.13" r="1.25" fill="none" stroke="#bd1238" stroke-width="1.0"/>
<circle cx="199.33" cy="458.59" r="1.25" fill="none" stroke="#bd1238" stroke-width="1.0"/>
<circle cx="202.95" cy="458.88" r="1.25" fill="none" stroke="#bd1238" stroke-width="1.0"/>
<circle cx="201.23" cy="450.32" r="1.25" fill="none" stroke="#bd1238" stroke-width="1.0"/>
<circle cx="202.46" cy="452.95" r="1.25" fill="none" stroke="#bd1238" stroke-width="1.0"/>
<circle cx="199.21" cy="455.88" r="1.25" fill="none" stroke="#bd1238" stroke-width="1.0"/>
<circle cx="196.89" cy="454.13" r="1.25" fill="none" stroke="#bd1238" stroke-width="1.0"/>
<circle cx="200.46" cy="452.26" r="1.25" fill="none" stroke="#bd1238" stroke-width="1.0"/>
<circle cx="205.47" cy="451.15" r="1.25" fill="none" stroke="#bd1238" stroke-width="1.0"/>
<circle cx="201.76" cy="454.65" r="1.25" fill="none" stroke="#bd1238" stroke-width="1.0"/>
<circle cx="204.43" cy="457.63" r="1.25" fill="none" stroke="#bd1238" stroke-width="1.0"/>
<circle cx="199.83" cy="454.01" r="1.25" fill="none" stroke="#bd1238" stroke-width="1.0"/>
<circle cx="202.98" cy="450.97" r="1.25" fill="none" stroke="#bd1238" stroke-width="1.0"/>
<circle cx="206.54" cy="449.59" r="1.25" fill="none" stroke="#bd1238" stroke-width="1.0"/>
<circle cx="196.55" cy="452.09" r="1.25" fill="none" stroke="#bd1238" stroke-width="1.0"/>
<circle cx="206.05" cy="454.51" r="1.25" fill="none" stroke="#bd1238" stroke-width="1.0"/>
<circle cx="201.22" cy="458.69" r="1.25" fill="none" stroke="#bd1238" stroke-width="1.0"/>
<circle cx="198.18" cy="452.94" r="1.25" fill="none" stroke="#bd1238" stroke-width="1.0"/>
<circle cx="199.68" cy="449.57" r="1.25" fill="none" stroke="#bd1238" stroke-width="1.0"/>
<circle cx="203.12" cy="449.20" r="1.25" fill="none" stroke="#bd1238" stroke-width="1.0"/>
<circle cx="220.51" cy="428.63" r="1.25" fill="none" stroke="#68288a" stroke-width="1.0"/>
<circle cx="223.93" cy="429.52" r="1.25" fill="none" stroke="#68288a" stroke-width="1.0"/>
<circle cx="218.48" cy="432.44" r="1.25" fill="none" stroke="#68288a" stroke-width="1.0"/>
<circle cx="222.28" cy="433.96" r="1.25" fill="none" stroke="#68288a" stroke-width="1.0"/>
<circle cx="225.58" cy="433.96" r="1.25" fill="none" stroke="#68288a" stroke-width="1.0"/>
<circle cx="222.28" cy="438.40" r="1.25" fill="none" stroke="#68288a" stroke-width="1.0"/>
<circle cx="216.95" cy="443.48" r="1.25" fill="none" stroke="#68288a" stroke-width="1.0"/>
<circle cx="227.11" cy="443.22" r="1.25" fill="none" stroke="#68288a" stroke-width="1.0"/>
<circle cx="223.93" cy="444.75" r="1.25" fill="none" stroke="#68288a" stroke-width="1.0"/>
<circle cx="219.49" cy="446.02" r="1.25" fill="none" stroke="#68288a" stroke-width="1.0"/>
<circle cx="217.21" cy="448.17" r="1.25" fill="none" stroke="#68288a" stroke-width="1.0"/>
<circle cx="227.74" cy="449.82" r="1.25" fill="none" stroke="#68288a" stroke-width="1.0"/>
<circle cx="220.51" cy="462.26" r="1.25" fill="none" stroke="#68288a" stroke-width="1.0"/>
<circle cx="224.57" cy="460.61" r="1.25" fill="none" stroke="#68288a" stroke-width="1.0"/>
<circle cx="225.61" cy="455.18" r="1.25" fill="none" stroke="#68288a" stroke-width="1.0"/>
<circle cx="224.59" cy="450.30" r="1.25" fill="none" stroke="#68288a" stroke-width="1.0"/>
<circle cx="226.63" cy="456.59" r="1.25" fill="none" stroke="#68288a" stroke-width="1.0"/>
<circle cx="220.40" cy="459.41" r="1.25" fill="none" stroke="#68288a" stroke-width="1.0"/>
<circle cx="218.20" cy="456.11" r="1.25" fill="none" stroke="#68288a" stroke-width="1.0"/>
<circle cx="220.97" cy="453.25" r="1.25" fill="none" stroke="#68288a" stroke-width="1.0"/>
<circle cx="220.86" cy="448.12" r="1.25" fill="none" stroke="#68288a" stroke-width="1.0"/>
<circle cx="222.25" cy="451.87" r="1.25" fill="none" stroke="#68288a" stroke-width="1.0"/>
<circle cx="218.13" cy="451.19" r="1.25" fill="none" stroke="#68288a" stroke-width="1.0"/>
<circle cx="222.77" cy="457.08" r="1.25" fill="none" stroke="#68288a" stroke-width="1.0"/>
<circle cx="221.96" cy="455.46" r="1.25" fill="none" stroke="#68288a" stroke-width="1.0"/>
<circle cx="222.73" cy="459.73" r="1.25" fill="none" stroke="#68288a" stroke-width="1.0"/>
<circle cx="221.91" cy="449.88" r="1.25" fill="none" stroke="#68288a" stroke-width="1.0"/>
<circle cx="226.30" cy="451.14" r="1.25" fill="none" stroke="#68288a" stroke-width="1.0"/>
<circle cx="219.79" cy="456.78" r="1.25" fill="none" stroke="#68288a" stroke-width="1.0"/>
<circle cx="222.82" cy="447.30" r="1.25" fill="none" stroke="#68288a" stroke-width="1.0"/>
<circle cx="219.11" cy="452.78" r="1.25" fill="none" stroke="#68288a" stroke-width="1.0"/>
<circle cx="224.03" cy="454.17" r="1.25" fill="none" stroke="#68288a" stroke-width="1.0"/>
<circle cx="224.56" cy="458.88" r="1.25" fill="none" stroke="#68288a" stroke-width="1.0"/>
<circle cx="216.36" cy="449.86" r="1.25" fill="none" stroke="#68288a" stroke-width="1.0"/>
<circle cx="224.88" cy="447.96" r="1.25" fill="none" stroke="#68288a" stroke-width="1.0"/>
<circle cx="216.52" cy="451.89" r="1.25" fill="none" stroke="#68288a" stroke-width="1.0"/>
<circle cx="217.84" cy="454.10" r="1.25" fill="none" stroke="#68288a" stroke-width="1.0"/>
<circle cx="228.14" cy="454.03" r="1.25" fill="none" stroke="#68288a" stroke-width="1.0"/>
<circle cx="226.35" cy="453.47" r="1.25" fill="none" stroke="#68288a" stroke-width="1.0"/>
<circle cx="223.97" cy="452.37" r="1.25" fill="none" stroke="#68288a" stroke-width="1.0"/>
<line x1="176.20" y1="454.03" x2="188.80" y2="454.03" stroke="#5c4010" stroke-width="0.9" stroke-linecap="butt"/>
<line x1="182.50" y1="452.50" x2="182.50" y2="455.56" stroke="#5c4010" stroke-width="0.7" stroke-linecap="butt"/>
<line x1="179.90" y1="452.50" x2="185.10" y2="452.50" stroke="#5c4010" stroke-width="0.7" stroke-linecap="butt"/>
<line x1="179.90" y1="455.56" x2="185.10" y2="455.56" stroke="#5c4010" stroke-width="0.7" stroke-linecap="butt"/>
<line x1="196.30" y1="447.36" x2="208.90" y2="447.36" stroke="#5c4010" stroke-width="0.9" stroke-linecap="butt"/>
<line x1="202.60" y1="445.56" x2="202.60" y2="449.17" stroke="#5c4010" stroke-width="0.7" stroke-linecap="butt"/>
<line x1="200.00" y1="445.56" x2="205.20" y2="445.56" stroke="#5c4010" stroke-width="0.7" stroke-linecap="butt"/>
<line x1="200.00" y1="449.17" x2="205.20" y2="449.17" stroke="#5c4010" stroke-width="0.7" stroke-linecap="butt"/>
<line x1="216.30" y1="448.89" x2="228.90" y2="448.89" stroke="#5c4010" stroke-width="0.9" stroke-linecap="butt"/>
<line x1="222.60" y1="447.22" x2="222.60" y2="450.56" stroke="#5c4010" stroke-width="0.7" stroke-linecap="butt"/>
<line x1="220.00" y1="447.22" x2="225.20" y2="447.22" stroke="#5c4010" stroke-width="0.7" stroke-linecap="butt"/>
<line x1="220.00" y1="450.56" x2="225.20" y2="450.56" stroke="#5c4010" stroke-width="0.7" stroke-linecap="butt"/>
<line x1="180.75" y1="411.40" x2="222.50" y2="411.40" stroke="#231f20" stroke-width="1.0" stroke-linecap="butt"/>
<line x1="180.75" y1="409.50" x2="180.75" y2="413.30" stroke="#231f20" stroke-width="1.0" stroke-linecap="butt"/>
<line x1="222.50" y1="409.50" x2="222.50" y2="413.30" stroke="#231f20" stroke-width="1.0" stroke-linecap="butt"/>
<circle cx="201.62" cy="409.50" r="0.8" fill="#231f20"/>
<line x1="180.75" y1="420.90" x2="203.25" y2="420.90" stroke="#231f20" stroke-width="1.0" stroke-linecap="butt"/>
<line x1="180.75" y1="419.00" x2="180.75" y2="422.80" stroke="#231f20" stroke-width="1.0" stroke-linecap="butt"/>
<line x1="203.25" y1="419.00" x2="203.25" y2="422.80" stroke="#231f20" stroke-width="1.0" stroke-linecap="butt"/>
<circle cx="192.00" cy="419.00" r="0.8" fill="#231f20"/>
<line x1="182.50" y1="487.50" x2="182.50" y2="490.20" stroke="#231f20" stroke-width="0.8" stroke-linecap="butt"/>
<text transform="translate(185.10,499.20) rotate(-45)" font-size="7.5" text-anchor="end" fill="#231f20" textLength="25.98" lengthAdjust="spacingAndGlyphs" stroke="#231f20" stroke-width="0.15">Scramble</text>
<line x1="202.60" y1="487.50" x2="202.60" y2="490.20" stroke="#231f20" stroke-width="0.8" stroke-linecap="butt"/>
<text transform="translate(205.20,499.20) rotate(-45)" font-size="7.5" text-anchor="end" fill="#231f20" textLength="28.72" lengthAdjust="spacingAndGlyphs" stroke="#231f20" stroke-width="0.15">shMdh1#2</text>
<line x1="222.60" y1="487.50" x2="222.60" y2="490.20" stroke="#231f20" stroke-width="0.8" stroke-linecap="butt"/>
<text transform="translate(225.20,499.20) rotate(-45)" font-size="7.5" text-anchor="end" fill="#231f20" textLength="28.72" lengthAdjust="spacingAndGlyphs" stroke="#231f20" stroke-width="0.15">shMdh1#3</text>
<text transform="translate(242.00,401.18)" font-size="12.5" text-anchor="start" fill="#000" font-weight="bold">H</text>
<polyline points="270.75,467.00 276.37,467.00 281.99,466.20 287.61,465.40 293.23,465.40 298.85,464.80 304.47,464.80 310.09,464.40 315.71,464.20 321.33,463.80 326.95,463.40 332.57,463.80 338.19,464.40 343.81,463.80 349.43,463.60 355.05,463.80" fill="none" stroke="#5aaa2a" stroke-width="1.2" stroke-linejoin="round"/>
<circle cx="270.75" cy="467.00" r="1.1" fill="#5aaa2a"/>
<circle cx="276.37" cy="467.00" r="1.1" fill="#5aaa2a"/>
<circle cx="281.99" cy="466.20" r="1.1" fill="#5aaa2a"/>
<circle cx="287.61" cy="465.40" r="1.1" fill="#5aaa2a"/>
<circle cx="293.23" cy="465.40" r="1.1" fill="#5aaa2a"/>
<circle cx="298.85" cy="464.80" r="1.1" fill="#5aaa2a"/>
<circle cx="304.47" cy="464.80" r="1.1" fill="#5aaa2a"/>
<circle cx="310.09" cy="464.40" r="1.1" fill="#5aaa2a"/>
<circle cx="315.71" cy="464.20" r="1.1" fill="#5aaa2a"/>
<circle cx="321.33" cy="463.80" r="1.1" fill="#5aaa2a"/>
<circle cx="326.95" cy="463.40" r="1.1" fill="#5aaa2a"/>
<circle cx="332.57" cy="463.80" r="1.1" fill="#5aaa2a"/>
<circle cx="338.19" cy="464.40" r="1.1" fill="#5aaa2a"/>
<circle cx="343.81" cy="463.80" r="1.1" fill="#5aaa2a"/>
<circle cx="349.43" cy="463.60" r="1.1" fill="#5aaa2a"/>
<circle cx="355.05" cy="463.80" r="1.1" fill="#5aaa2a"/>
<polyline points="270.75,467.00 276.37,465.80 281.99,463.00 287.61,461.20 293.23,460.40 298.85,458.60 304.47,458.60 310.09,458.60 315.71,457.20 321.33,456.60 326.95,456.20 332.57,458.00 338.19,457.60 343.81,458.60 349.43,459.00 355.05,458.60" fill="none" stroke="#5a2483" stroke-width="1.2" stroke-linejoin="round"/>
<circle cx="270.75" cy="467.00" r="1.1" fill="#5a2483"/>
<line x1="276.37" y1="465.80" x2="276.37" y2="462.92" stroke="#5a2483" stroke-width="0.8" stroke-linecap="butt"/>
<line x1="274.97" y1="462.92" x2="277.77" y2="462.92" stroke="#5a2483" stroke-width="0.8" stroke-linecap="butt"/>
<circle cx="276.37" cy="465.80" r="1.1" fill="#5a2483"/>
<line x1="281.99" y1="463.00" x2="281.99" y2="460.12" stroke="#5a2483" stroke-width="0.8" stroke-linecap="butt"/>
<line x1="280.59" y1="460.12" x2="283.39" y2="460.12" stroke="#5a2483" stroke-width="0.8" stroke-linecap="butt"/>
<circle cx="281.99" cy="463.00" r="1.1" fill="#5a2483"/>
<line x1="287.61" y1="461.20" x2="287.61" y2="458.32" stroke="#5a2483" stroke-width="0.8" stroke-linecap="butt"/>
<line x1="286.21" y1="458.32" x2="289.01" y2="458.32" stroke="#5a2483" stroke-width="0.8" stroke-linecap="butt"/>
<circle cx="287.61" cy="461.20" r="1.1" fill="#5a2483"/>
<line x1="293.23" y1="460.40" x2="293.23" y2="457.52" stroke="#5a2483" stroke-width="0.8" stroke-linecap="butt"/>
<line x1="291.83" y1="457.52" x2="294.63" y2="457.52" stroke="#5a2483" stroke-width="0.8" stroke-linecap="butt"/>
<circle cx="293.23" cy="460.40" r="1.1" fill="#5a2483"/>
<line x1="298.85" y1="458.60" x2="298.85" y2="455.72" stroke="#5a2483" stroke-width="0.8" stroke-linecap="butt"/>
<line x1="297.45" y1="455.72" x2="300.25" y2="455.72" stroke="#5a2483" stroke-width="0.8" stroke-linecap="butt"/>
<circle cx="298.85" cy="458.60" r="1.1" fill="#5a2483"/>
<line x1="304.47" y1="458.60" x2="304.47" y2="455.72" stroke="#5a2483" stroke-width="0.8" stroke-linecap="butt"/>
<line x1="303.07" y1="455.72" x2="305.87" y2="455.72" stroke="#5a2483" stroke-width="0.8" stroke-linecap="butt"/>
<circle cx="304.47" cy="458.60" r="1.1" fill="#5a2483"/>
<line x1="310.09" y1="458.60" x2="310.09" y2="455.72" stroke="#5a2483" stroke-width="0.8" stroke-linecap="butt"/>
<line x1="308.69" y1="455.72" x2="311.49" y2="455.72" stroke="#5a2483" stroke-width="0.8" stroke-linecap="butt"/>
<circle cx="310.09" cy="458.60" r="1.1" fill="#5a2483"/>
<line x1="315.71" y1="457.20" x2="315.71" y2="454.32" stroke="#5a2483" stroke-width="0.8" stroke-linecap="butt"/>
<line x1="314.31" y1="454.32" x2="317.11" y2="454.32" stroke="#5a2483" stroke-width="0.8" stroke-linecap="butt"/>
<circle cx="315.71" cy="457.20" r="1.1" fill="#5a2483"/>
<line x1="321.33" y1="456.60" x2="321.33" y2="453.72" stroke="#5a2483" stroke-width="0.8" stroke-linecap="butt"/>
<line x1="319.93" y1="453.72" x2="322.73" y2="453.72" stroke="#5a2483" stroke-width="0.8" stroke-linecap="butt"/>
<circle cx="321.33" cy="456.60" r="1.1" fill="#5a2483"/>
<line x1="326.95" y1="456.20" x2="326.95" y2="453.32" stroke="#5a2483" stroke-width="0.8" stroke-linecap="butt"/>
<line x1="325.55" y1="453.32" x2="328.35" y2="453.32" stroke="#5a2483" stroke-width="0.8" stroke-linecap="butt"/>
<circle cx="326.95" cy="456.20" r="1.1" fill="#5a2483"/>
<line x1="332.57" y1="458.00" x2="332.57" y2="455.12" stroke="#5a2483" stroke-width="0.8" stroke-linecap="butt"/>
<line x1="331.17" y1="455.12" x2="333.97" y2="455.12" stroke="#5a2483" stroke-width="0.8" stroke-linecap="butt"/>
<circle cx="332.57" cy="458.00" r="1.1" fill="#5a2483"/>
<line x1="338.19" y1="457.60" x2="338.19" y2="454.72" stroke="#5a2483" stroke-width="0.8" stroke-linecap="butt"/>
<line x1="336.79" y1="454.72" x2="339.59" y2="454.72" stroke="#5a2483" stroke-width="0.8" stroke-linecap="butt"/>
<circle cx="338.19" cy="457.60" r="1.1" fill="#5a2483"/>
<line x1="343.81" y1="458.60" x2="343.81" y2="455.72" stroke="#5a2483" stroke-width="0.8" stroke-linecap="butt"/>
<line x1="342.41" y1="455.72" x2="345.21" y2="455.72" stroke="#5a2483" stroke-width="0.8" stroke-linecap="butt"/>
<circle cx="343.81" cy="458.60" r="1.1" fill="#5a2483"/>
<line x1="349.43" y1="459.00" x2="349.43" y2="456.12" stroke="#5a2483" stroke-width="0.8" stroke-linecap="butt"/>
<line x1="348.03" y1="456.12" x2="350.83" y2="456.12" stroke="#5a2483" stroke-width="0.8" stroke-linecap="butt"/>
<circle cx="349.43" cy="459.00" r="1.1" fill="#5a2483"/>
<line x1="355.05" y1="458.60" x2="355.05" y2="455.72" stroke="#5a2483" stroke-width="0.8" stroke-linecap="butt"/>
<line x1="353.65" y1="455.72" x2="356.45" y2="455.72" stroke="#5a2483" stroke-width="0.8" stroke-linecap="butt"/>
<circle cx="355.05" cy="458.60" r="1.1" fill="#5a2483"/>
<polyline points="270.75,467.00 276.37,468.20 281.99,465.80 287.61,464.60 293.23,464.80 298.85,463.40 304.47,464.40 310.09,463.00 315.71,463.80 321.33,462.60 326.95,462.20 332.57,463.80 338.19,464.80 343.81,462.60 349.43,463.00 355.05,463.00" fill="none" stroke="#c0143c" stroke-width="1.2" stroke-linejoin="round"/>
<circle cx="270.75" cy="467.00" r="1.1" fill="#c0143c"/>
<line x1="276.37" y1="468.20" x2="276.37" y2="466.00" stroke="#c0143c" stroke-width="0.8" stroke-linecap="butt"/>
<line x1="274.97" y1="466.00" x2="277.77" y2="466.00" stroke="#c0143c" stroke-width="0.8" stroke-linecap="butt"/>
<circle cx="276.37" cy="468.20" r="1.1" fill="#c0143c"/>
<line x1="281.99" y1="465.80" x2="281.99" y2="463.60" stroke="#c0143c" stroke-width="0.8" stroke-linecap="butt"/>
<line x1="280.59" y1="463.60" x2="283.39" y2="463.60" stroke="#c0143c" stroke-width="0.8" stroke-linecap="butt"/>
<circle cx="281.99" cy="465.80" r="1.1" fill="#c0143c"/>
<line x1="287.61" y1="464.60" x2="287.61" y2="462.40" stroke="#c0143c" stroke-width="0.8" stroke-linecap="butt"/>
<line x1="286.21" y1="462.40" x2="289.01" y2="462.40" stroke="#c0143c" stroke-width="0.8" stroke-linecap="butt"/>
<circle cx="287.61" cy="464.60" r="1.1" fill="#c0143c"/>
<line x1="293.23" y1="464.80" x2="293.23" y2="462.60" stroke="#c0143c" stroke-width="0.8" stroke-linecap="butt"/>
<line x1="291.83" y1="462.60" x2="294.63" y2="462.60" stroke="#c0143c" stroke-width="0.8" stroke-linecap="butt"/>
<circle cx="293.23" cy="464.80" r="1.1" fill="#c0143c"/>
<line x1="298.85" y1="463.40" x2="298.85" y2="461.20" stroke="#c0143c" stroke-width="0.8" stroke-linecap="butt"/>
<line x1="297.45" y1="461.20" x2="300.25" y2="461.20" stroke="#c0143c" stroke-width="0.8" stroke-linecap="butt"/>
<circle cx="298.85" cy="463.40" r="1.1" fill="#c0143c"/>
<line x1="304.47" y1="464.40" x2="304.47" y2="462.20" stroke="#c0143c" stroke-width="0.8" stroke-linecap="butt"/>
<line x1="303.07" y1="462.20" x2="305.87" y2="462.20" stroke="#c0143c" stroke-width="0.8" stroke-linecap="butt"/>
<circle cx="304.47" cy="464.40" r="1.1" fill="#c0143c"/>
<line x1="310.09" y1="463.00" x2="310.09" y2="460.80" stroke="#c0143c" stroke-width="0.8" stroke-linecap="butt"/>
<line x1="308.69" y1="460.80" x2="311.49" y2="460.80" stroke="#c0143c" stroke-width="0.8" stroke-linecap="butt"/>
<circle cx="310.09" cy="463.00" r="1.1" fill="#c0143c"/>
<line x1="315.71" y1="463.80" x2="315.71" y2="461.60" stroke="#c0143c" stroke-width="0.8" stroke-linecap="butt"/>
<line x1="314.31" y1="461.60" x2="317.11" y2="461.60" stroke="#c0143c" stroke-width="0.8" stroke-linecap="butt"/>
<circle cx="315.71" cy="463.80" r="1.1" fill="#c0143c"/>
<line x1="321.33" y1="462.60" x2="321.33" y2="460.40" stroke="#c0143c" stroke-width="0.8" stroke-linecap="butt"/>
<line x1="319.93" y1="460.40" x2="322.73" y2="460.40" stroke="#c0143c" stroke-width="0.8" stroke-linecap="butt"/>
<circle cx="321.33" cy="462.60" r="1.1" fill="#c0143c"/>
<line x1="326.95" y1="462.20" x2="326.95" y2="460.00" stroke="#c0143c" stroke-width="0.8" stroke-linecap="butt"/>
<line x1="325.55" y1="460.00" x2="328.35" y2="460.00" stroke="#c0143c" stroke-width="0.8" stroke-linecap="butt"/>
<circle cx="326.95" cy="462.20" r="1.1" fill="#c0143c"/>
<line x1="332.57" y1="463.80" x2="332.57" y2="461.60" stroke="#c0143c" stroke-width="0.8" stroke-linecap="butt"/>
<line x1="331.17" y1="461.60" x2="333.97" y2="461.60" stroke="#c0143c" stroke-width="0.8" stroke-linecap="butt"/>
<circle cx="332.57" cy="463.80" r="1.1" fill="#c0143c"/>
<line x1="338.19" y1="464.80" x2="338.19" y2="462.60" stroke="#c0143c" stroke-width="0.8" stroke-linecap="butt"/>
<line x1="336.79" y1="462.60" x2="339.59" y2="462.60" stroke="#c0143c" stroke-width="0.8" stroke-linecap="butt"/>
<circle cx="338.19" cy="464.80" r="1.1" fill="#c0143c"/>
<line x1="343.81" y1="462.60" x2="343.81" y2="460.40" stroke="#c0143c" stroke-width="0.8" stroke-linecap="butt"/>
<line x1="342.41" y1="460.40" x2="345.21" y2="460.40" stroke="#c0143c" stroke-width="0.8" stroke-linecap="butt"/>
<circle cx="343.81" cy="462.60" r="1.1" fill="#c0143c"/>
<line x1="349.43" y1="463.00" x2="349.43" y2="460.80" stroke="#c0143c" stroke-width="0.8" stroke-linecap="butt"/>
<line x1="348.03" y1="460.80" x2="350.83" y2="460.80" stroke="#c0143c" stroke-width="0.8" stroke-linecap="butt"/>
<circle cx="349.43" cy="463.00" r="1.1" fill="#c0143c"/>
<line x1="355.05" y1="463.00" x2="355.05" y2="460.80" stroke="#c0143c" stroke-width="0.8" stroke-linecap="butt"/>
<line x1="353.65" y1="460.80" x2="356.45" y2="460.80" stroke="#c0143c" stroke-width="0.8" stroke-linecap="butt"/>
<circle cx="355.05" cy="463.00" r="1.1" fill="#c0143c"/>
<polyline points="270.75,467.00 276.37,464.00 281.99,463.00 287.61,458.00 293.23,454.00 298.85,454.00 304.47,452.20 310.09,449.00 315.71,447.00 321.33,446.20 326.95,446.20 332.57,448.60 338.19,450.40 343.81,449.80 349.43,449.80 355.05,449.80" fill="none" stroke="#c27a28" stroke-width="1.2" stroke-linejoin="round"/>
<circle cx="270.75" cy="467.00" r="1.1" fill="#c27a28"/>
<line x1="276.37" y1="464.00" x2="276.37" y2="461.40" stroke="#c27a28" stroke-width="0.8" stroke-linecap="butt"/>
<line x1="274.97" y1="461.40" x2="277.77" y2="461.40" stroke="#c27a28" stroke-width="0.8" stroke-linecap="butt"/>
<circle cx="276.37" cy="464.00" r="1.1" fill="#c27a28"/>
<line x1="281.99" y1="463.00" x2="281.99" y2="460.40" stroke="#c27a28" stroke-width="0.8" stroke-linecap="butt"/>
<line x1="280.59" y1="460.40" x2="283.39" y2="460.40" stroke="#c27a28" stroke-width="0.8" stroke-linecap="butt"/>
<circle cx="281.99" cy="463.00" r="1.1" fill="#c27a28"/>
<line x1="287.61" y1="458.00" x2="287.61" y2="455.40" stroke="#c27a28" stroke-width="0.8" stroke-linecap="butt"/>
<line x1="286.21" y1="455.40" x2="289.01" y2="455.40" stroke="#c27a28" stroke-width="0.8" stroke-linecap="butt"/>
<circle cx="287.61" cy="458.00" r="1.1" fill="#c27a28"/>
<line x1="293.23" y1="454.00" x2="293.23" y2="451.40" stroke="#c27a28" stroke-width="0.8" stroke-linecap="butt"/>
<line x1="291.83" y1="451.40" x2="294.63" y2="451.40" stroke="#c27a28" stroke-width="0.8" stroke-linecap="butt"/>
<circle cx="293.23" cy="454.00" r="1.1" fill="#c27a28"/>
<line x1="298.85" y1="454.00" x2="298.85" y2="451.40" stroke="#c27a28" stroke-width="0.8" stroke-linecap="butt"/>
<line x1="297.45" y1="451.40" x2="300.25" y2="451.40" stroke="#c27a28" stroke-width="0.8" stroke-linecap="butt"/>
<circle cx="298.85" cy="454.00" r="1.1" fill="#c27a28"/>
<line x1="304.47" y1="452.20" x2="304.47" y2="449.60" stroke="#c27a28" stroke-width="0.8" stroke-linecap="butt"/>
<line x1="303.07" y1="449.60" x2="305.87" y2="449.60" stroke="#c27a28" stroke-width="0.8" stroke-linecap="butt"/>
<circle cx="304.47" cy="452.20" r="1.1" fill="#c27a28"/>
<line x1="310.09" y1="449.00" x2="310.09" y2="446.40" stroke="#c27a28" stroke-width="0.8" stroke-linecap="butt"/>
<line x1="308.69" y1="446.40" x2="311.49" y2="446.40" stroke="#c27a28" stroke-width="0.8" stroke-linecap="butt"/>
<circle cx="310.09" cy="449.00" r="1.1" fill="#c27a28"/>
<line x1="315.71" y1="447.00" x2="315.71" y2="444.40" stroke="#c27a28" stroke-width="0.8" stroke-linecap="butt"/>
<line x1="314.31" y1="444.40" x2="317.11" y2="444.40" stroke="#c27a28" stroke-width="0.8" stroke-linecap="butt"/>
<circle cx="315.71" cy="447.00" r="1.1" fill="#c27a28"/>
<line x1="321.33" y1="446.20" x2="321.33" y2="443.60" stroke="#c27a28" stroke-width="0.8" stroke-linecap="butt"/>
<line x1="319.93" y1="443.60" x2="322.73" y2="443.60" stroke="#c27a28" stroke-width="0.8" stroke-linecap="butt"/>
<circle cx="321.33" cy="446.20" r="1.1" fill="#c27a28"/>
<line x1="326.95" y1="446.20" x2="326.95" y2="443.60" stroke="#c27a28" stroke-width="0.8" stroke-linecap="butt"/>
<line x1="325.55" y1="443.60" x2="328.35" y2="443.60" stroke="#c27a28" stroke-width="0.8" stroke-linecap="butt"/>
<circle cx="326.95" cy="446.20" r="1.1" fill="#c27a28"/>
<line x1="332.57" y1="448.60" x2="332.57" y2="446.00" stroke="#c27a28" stroke-width="0.8" stroke-linecap="butt"/>
<line x1="331.17" y1="446.00" x2="333.97" y2="446.00" stroke="#c27a28" stroke-width="0.8" stroke-linecap="butt"/>
<circle cx="332.57" cy="448.60" r="1.1" fill="#c27a28"/>
<line x1="338.19" y1="450.40" x2="338.19" y2="447.80" stroke="#c27a28" stroke-width="0.8" stroke-linecap="butt"/>
<line x1="336.79" y1="447.80" x2="339.59" y2="447.80" stroke="#c27a28" stroke-width="0.8" stroke-linecap="butt"/>
<circle cx="338.19" cy="450.40" r="1.1" fill="#c27a28"/>
<line x1="343.81" y1="449.80" x2="343.81" y2="447.20" stroke="#c27a28" stroke-width="0.8" stroke-linecap="butt"/>
<line x1="342.41" y1="447.20" x2="345.21" y2="447.20" stroke="#c27a28" stroke-width="0.8" stroke-linecap="butt"/>
<circle cx="343.81" cy="449.80" r="1.1" fill="#c27a28"/>
<line x1="349.43" y1="449.80" x2="349.43" y2="447.20" stroke="#c27a28" stroke-width="0.8" stroke-linecap="butt"/>
<line x1="348.03" y1="447.20" x2="350.83" y2="447.20" stroke="#c27a28" stroke-width="0.8" stroke-linecap="butt"/>
<circle cx="349.43" cy="449.80" r="1.1" fill="#c27a28"/>
<line x1="355.05" y1="449.80" x2="355.05" y2="447.20" stroke="#c27a28" stroke-width="0.8" stroke-linecap="butt"/>
<line x1="353.65" y1="447.20" x2="356.45" y2="447.20" stroke="#c27a28" stroke-width="0.8" stroke-linecap="butt"/>
<circle cx="355.05" cy="449.80" r="1.1" fill="#c27a28"/>
<line x1="270.75" y1="424.50" x2="270.75" y2="487.50" stroke="#101010" stroke-width="1.4" stroke-linecap="butt"/>
<line x1="268.75" y1="487.00" x2="358.00" y2="487.00" stroke="#101010" stroke-width="1.4" stroke-linecap="butt"/>
<line x1="268.15" y1="487.00" x2="270.75" y2="487.00" stroke="#231f20" stroke-width="0.8" stroke-linecap="butt"/>
<text transform="translate(264.70,489.61)" font-size="7.3" text-anchor="end" fill="#231f20" textLength="9.64" lengthAdjust="spacingAndGlyphs">0.5</text>
<line x1="268.15" y1="467.00" x2="270.75" y2="467.00" stroke="#231f20" stroke-width="0.8" stroke-linecap="butt"/>
<text transform="translate(264.70,469.61)" font-size="7.3" text-anchor="end" fill="#231f20" textLength="9.64" lengthAdjust="spacingAndGlyphs">1.0</text>
<line x1="268.15" y1="447.00" x2="270.75" y2="447.00" stroke="#231f20" stroke-width="0.8" stroke-linecap="butt"/>
<text transform="translate(264.70,449.61)" font-size="7.3" text-anchor="end" fill="#231f20" textLength="9.64" lengthAdjust="spacingAndGlyphs">1.5</text>
<line x1="268.15" y1="427.00" x2="270.75" y2="427.00" stroke="#231f20" stroke-width="0.8" stroke-linecap="butt"/>
<text transform="translate(264.70,429.61)" font-size="7.3" text-anchor="end" fill="#231f20" textLength="9.64" lengthAdjust="spacingAndGlyphs">2.0</text>
<line x1="270.75" y1="487.00" x2="270.75" y2="489.60" stroke="#231f20" stroke-width="0.8" stroke-linecap="butt"/>
<text transform="translate(270.75,499.21)" font-size="7.3" text-anchor="middle" fill="#231f20" textLength="3.86" lengthAdjust="spacingAndGlyphs">0</text>
<line x1="298.85" y1="487.00" x2="298.85" y2="489.60" stroke="#231f20" stroke-width="0.8" stroke-linecap="butt"/>
<text transform="translate(298.85,499.21)" font-size="7.3" text-anchor="middle" fill="#231f20" textLength="3.86" lengthAdjust="spacingAndGlyphs">5</text>
<line x1="326.95" y1="487.00" x2="326.95" y2="489.60" stroke="#231f20" stroke-width="0.8" stroke-linecap="butt"/>
<text transform="translate(326.95,499.21)" font-size="7.3" text-anchor="middle" fill="#231f20" textLength="7.71" lengthAdjust="spacingAndGlyphs">10</text>
<line x1="355.05" y1="487.00" x2="355.05" y2="489.60" stroke="#231f20" stroke-width="0.8" stroke-linecap="butt"/>
<text transform="translate(355.05,499.21)" font-size="7.3" text-anchor="middle" fill="#231f20" textLength="7.71" lengthAdjust="spacingAndGlyphs">15</text>
<text transform="translate(314.60,510.88)" font-size="8.6" text-anchor="middle" fill="#231f20" textLength="36.80" lengthAdjust="spacingAndGlyphs">Time (mins)</text>
<text transform="translate(249.50,455.70) rotate(-90)" font-size="8.2" text-anchor="middle" fill="#231f20" textLength="83.00" lengthAdjust="spacingAndGlyphs">Normalized F405/F488 nm</text>
<line x1="273.75" y1="407.00" x2="280.00" y2="407.00" stroke="#5aaa2a" stroke-width="0.9" stroke-linecap="butt"/>
<circle cx="276.9" cy="407" r="1.0" fill="#5aaa2a"/>
<line x1="276.90" y1="405.50" x2="276.90" y2="408.50" stroke="#5aaa2a" stroke-width="0.7" stroke-linecap="butt"/>
<text transform="translate(282.50,409.22)" font-size="6.2" text-anchor="start" fill="#231f20" textLength="25.67" lengthAdjust="spacingAndGlyphs">Ctrl (PBS)</text>
<line x1="273.75" y1="413.80" x2="280.00" y2="413.80" stroke="#c27a28" stroke-width="0.9" stroke-linecap="butt"/>
<circle cx="276.9" cy="413.8" r="1.0" fill="#c27a28"/>
<line x1="276.90" y1="412.30" x2="276.90" y2="415.30" stroke="#c27a28" stroke-width="0.7" stroke-linecap="butt"/>
<text transform="translate(282.50,416.02)" font-size="6.2" text-anchor="start" fill="#231f20" textLength="24.09" lengthAdjust="spacingAndGlyphs">Scramble</text>
<line x1="273.75" y1="420.80" x2="280.00" y2="420.80" stroke="#c0143c" stroke-width="0.9" stroke-linecap="butt"/>
<circle cx="276.9" cy="420.8" r="1.0" fill="#c0143c"/>
<line x1="276.90" y1="419.30" x2="276.90" y2="422.30" stroke="#c0143c" stroke-width="0.7" stroke-linecap="butt"/>
<text transform="translate(282.50,423.02)" font-size="6.2" text-anchor="start" fill="#231f20" textLength="26.64" lengthAdjust="spacingAndGlyphs">shMdh1#2</text>
<line x1="273.75" y1="427.80" x2="280.00" y2="427.80" stroke="#5a2483" stroke-width="0.9" stroke-linecap="butt"/>
<circle cx="276.9" cy="427.8" r="1.0" fill="#5a2483"/>
<line x1="276.90" y1="426.30" x2="276.90" y2="429.30" stroke="#5a2483" stroke-width="0.7" stroke-linecap="butt"/>
<text transform="translate(282.50,430.02)" font-size="6.2" text-anchor="start" fill="#231f20" textLength="26.64" lengthAdjust="spacingAndGlyphs">shMdh1#3</text>
<text transform="translate(272.20,448.52)" font-size="6.2" text-anchor="start" fill="#231f20" textLength="35.80" lengthAdjust="spacingAndGlyphs">AOA (0.4 mM)</text>
<line x1="273.30" y1="451.50" x2="273.30" y2="461.00" stroke="#231f20" stroke-width="0.8" stroke-linecap="butt"/>
<path d="M271.6 458.6 L273.3 462.4 L275 458.6 Z" fill="#231f20"/>
<text transform="translate(368.70,384.63)" font-size="12.5" text-anchor="start" fill="#000" font-weight="bold">I</text>
<rect x="394.70" y="374.90" width="7.60" height="5.80" fill="#aa6a24" />
<text transform="translate(405.50,380.23)" font-size="6.5" text-anchor="start" fill="#231f20" textLength="23.61" lengthAdjust="spacingAndGlyphs">Scramble</text>
<rect x="394.70" y="383.80" width="7.60" height="5.80" fill="#a6072e" />
<text transform="translate(405.50,389.13)" font-size="6.5" text-anchor="start" fill="#231f20" textLength="26.11" lengthAdjust="spacingAndGlyphs">shMdh1#2</text>
<rect x="394.70" y="393.10" width="7.60" height="5.80" fill="#2b497f" />
<text transform="translate(405.50,398.43)" font-size="6.5" text-anchor="start" fill="#231f20" textLength="26.11" lengthAdjust="spacingAndGlyphs">shMdh1#3</text>
<line x1="403.90" y1="418.39" x2="403.90" y2="416.82" stroke="#231f20" stroke-width="0.8" stroke-linecap="butt"/>
<line x1="402.20" y1="416.82" x2="405.60" y2="416.82" stroke="#231f20" stroke-width="0.8" stroke-linecap="butt"/>
<rect x="400.00" y="418.39" width="7.80" height="68.61" fill="#aa6a24" />
<line x1="414.60" y1="468.20" x2="414.60" y2="467.83" stroke="#231f20" stroke-width="0.8" stroke-linecap="butt"/>
<line x1="412.90" y1="467.83" x2="416.30" y2="467.83" stroke="#231f20" stroke-width="0.8" stroke-linecap="butt"/>
<rect x="410.70" y="468.20" width="7.80" height="18.80" fill="#a6072e" />
<line x1="425.30" y1="469.30" x2="425.30" y2="468.67" stroke="#231f20" stroke-width="0.8" stroke-linecap="butt"/>
<line x1="423.60" y1="468.67" x2="427.00" y2="468.67" stroke="#231f20" stroke-width="0.8" stroke-linecap="butt"/>
<rect x="421.40" y="469.30" width="7.80" height="17.70" fill="#2b497f" />
<line x1="443.15" y1="424.97" x2="443.15" y2="423.87" stroke="#231f20" stroke-width="0.8" stroke-linecap="butt"/>
<line x1="441.45" y1="423.87" x2="444.85" y2="423.87" stroke="#231f20" stroke-width="0.8" stroke-linecap="butt"/>
<rect x="439.25" y="424.97" width="7.80" height="62.03" fill="#aa6a24" />
<line x1="453.85" y1="475.72" x2="453.85" y2="474.62" stroke="#231f20" stroke-width="0.8" stroke-linecap="butt"/>
<line x1="452.15" y1="474.62" x2="455.55" y2="474.62" stroke="#231f20" stroke-width="0.8" stroke-linecap="butt"/>
<rect x="449.95" y="475.72" width="7.80" height="11.28" fill="#a6072e" />
<line x1="464.55" y1="476.35" x2="464.55" y2="473.21" stroke="#231f20" stroke-width="0.8" stroke-linecap="butt"/>
<line x1="462.85" y1="473.21" x2="466.25" y2="473.21" stroke="#231f20" stroke-width="0.8" stroke-linecap="butt"/>
<rect x="460.65" y="476.35" width="7.80" height="10.65" fill="#2b497f" />
<line x1="482.15" y1="420.89" x2="482.15" y2="419.48" stroke="#231f20" stroke-width="0.8" stroke-linecap="butt"/>
<line x1="480.45" y1="419.48" x2="483.85" y2="419.48" stroke="#231f20" stroke-width="0.8" stroke-linecap="butt"/>
<rect x="478.25" y="420.89" width="7.80" height="66.11" fill="#aa6a24" />
<line x1="492.85" y1="485.43" x2="492.85" y2="484.81" stroke="#231f20" stroke-width="0.8" stroke-linecap="butt"/>
<line x1="491.15" y1="484.81" x2="494.55" y2="484.81" stroke="#231f20" stroke-width="0.8" stroke-linecap="butt"/>
<rect x="488.95" y="485.43" width="7.80" height="1.57" fill="#a6072e" />
<line x1="503.55" y1="485.12" x2="503.55" y2="484.34" stroke="#231f20" stroke-width="0.8" stroke-linecap="butt"/>
<line x1="501.85" y1="484.34" x2="505.25" y2="484.34" stroke="#231f20" stroke-width="0.8" stroke-linecap="butt"/>
<rect x="499.65" y="485.12" width="7.80" height="1.88" fill="#2b497f" />
<line x1="395.00" y1="405.75" x2="395.00" y2="487.50" stroke="#101010" stroke-width="1.4" stroke-linecap="butt"/>
<line x1="394.50" y1="487.00" x2="512.50" y2="487.00" stroke="#101010" stroke-width="1.4" stroke-linecap="butt"/>
<line x1="392.00" y1="487.00" x2="395.00" y2="487.00" stroke="#231f20" stroke-width="0.9" stroke-linecap="butt"/>
<text transform="translate(389.60,489.54)" font-size="7.1" text-anchor="end" fill="#231f20" textLength="3.87" lengthAdjust="spacingAndGlyphs">0</text>
<line x1="392.00" y1="471.33" x2="395.00" y2="471.33" stroke="#231f20" stroke-width="0.9" stroke-linecap="butt"/>
<text transform="translate(389.60,473.88)" font-size="7.1" text-anchor="end" fill="#231f20" textLength="3.87" lengthAdjust="spacingAndGlyphs">5</text>
<line x1="392.00" y1="455.67" x2="395.00" y2="455.67" stroke="#231f20" stroke-width="0.9" stroke-linecap="butt"/>
<text transform="translate(389.60,458.21)" font-size="7.1" text-anchor="end" fill="#231f20" textLength="7.74" lengthAdjust="spacingAndGlyphs">10</text>
<line x1="392.00" y1="440.00" x2="395.00" y2="440.00" stroke="#231f20" stroke-width="0.9" stroke-linecap="butt"/>
<text transform="translate(389.60,442.55)" font-size="7.1" text-anchor="end" fill="#231f20" textLength="7.74" lengthAdjust="spacingAndGlyphs">15</text>
<line x1="392.00" y1="424.34" x2="395.00" y2="424.34" stroke="#231f20" stroke-width="0.9" stroke-linecap="butt"/>
<text transform="translate(389.60,426.88)" font-size="7.1" text-anchor="end" fill="#231f20" textLength="7.74" lengthAdjust="spacingAndGlyphs">20</text>
<line x1="392.00" y1="408.68" x2="395.00" y2="408.68" stroke="#231f20" stroke-width="0.9" stroke-linecap="butt"/>
<text transform="translate(389.60,411.22)" font-size="7.1" text-anchor="end" fill="#231f20" textLength="7.74" lengthAdjust="spacingAndGlyphs">25</text>
<line x1="414.50" y1="487.00" x2="414.50" y2="489.40" stroke="#231f20" stroke-width="0.8" stroke-linecap="butt"/>
<text transform="translate(414.50,499.48)" font-size="7.2" text-anchor="middle" fill="#231f20" textLength="25.09" lengthAdjust="spacingAndGlyphs">3 weeks</text>
<line x1="453.75" y1="487.00" x2="453.75" y2="489.40" stroke="#231f20" stroke-width="0.8" stroke-linecap="butt"/>
<text transform="translate(453.75,499.48)" font-size="7.2" text-anchor="middle" fill="#231f20" textLength="25.09" lengthAdjust="spacingAndGlyphs">8 weeks</text>
<line x1="493.25" y1="487.00" x2="493.25" y2="489.40" stroke="#231f20" stroke-width="0.8" stroke-linecap="butt"/>
<text transform="translate(493.25,499.48)" font-size="7.2" text-anchor="middle" fill="#231f20" textLength="28.90" lengthAdjust="spacingAndGlyphs">16 weeks</text>
<text transform="translate(376.40,446.00) rotate(-90)" font-size="8.3" text-anchor="middle" fill="#231f20" textLength="47.50" lengthAdjust="spacingAndGlyphs">% repopulation</text>
<line x1="404.25" y1="405.50" x2="425.75" y2="405.50" stroke="#231f20" stroke-width="1.0" stroke-linecap="butt"/>
<line x1="404.25" y1="403.60" x2="404.25" y2="407.40" stroke="#231f20" stroke-width="1.0" stroke-linecap="butt"/>
<line x1="425.75" y1="403.60" x2="425.75" y2="407.40" stroke="#231f20" stroke-width="1.0" stroke-linecap="butt"/>
<circle cx="412.70" cy="402.90" r="0.75" fill="#231f20"/>
<circle cx="415.00" cy="402.90" r="0.75" fill="#231f20"/>
<circle cx="417.30" cy="402.90" r="0.75" fill="#231f20"/>
<line x1="404.25" y1="413.00" x2="415.00" y2="413.00" stroke="#231f20" stroke-width="1.0" stroke-linecap="butt"/>
<line x1="404.25" y1="411.10" x2="404.25" y2="414.90" stroke="#231f20" stroke-width="1.0" stroke-linecap="butt"/>
<line x1="415.00" y1="411.10" x2="415.00" y2="414.90" stroke="#231f20" stroke-width="1.0" stroke-linecap="butt"/>
<circle cx="407.32" cy="410.40" r="0.75" fill="#231f20"/>
<circle cx="409.62" cy="410.40" r="0.75" fill="#231f20"/>
<circle cx="411.93" cy="410.40" r="0.75" fill="#231f20"/>
<line x1="442.00" y1="412.00" x2="465.75" y2="412.00" stroke="#231f20" stroke-width="1.0" stroke-linecap="butt"/>
<line x1="442.00" y1="410.10" x2="442.00" y2="413.90" stroke="#231f20" stroke-width="1.0" stroke-linecap="butt"/>
<line x1="465.75" y1="410.10" x2="465.75" y2="413.90" stroke="#231f20" stroke-width="1.0" stroke-linecap="butt"/>
<circle cx="451.57" cy="409.40" r="0.75" fill="#231f20"/>
<circle cx="453.88" cy="409.40" r="0.75" fill="#231f20"/>
<circle cx="456.18" cy="409.40" r="0.75" fill="#231f20"/>
<line x1="442.00" y1="419.50" x2="454.50" y2="419.50" stroke="#231f20" stroke-width="1.0" stroke-linecap="butt"/>
<line x1="442.00" y1="417.60" x2="442.00" y2="421.40" stroke="#231f20" stroke-width="1.0" stroke-linecap="butt"/>
<line x1="454.50" y1="417.60" x2="454.50" y2="421.40" stroke="#231f20" stroke-width="1.0" stroke-linecap="butt"/>
<circle cx="445.95" cy="416.90" r="0.75" fill="#231f20"/>
<circle cx="448.25" cy="416.90" r="0.75" fill="#231f20"/>
<circle cx="450.55" cy="416.90" r="0.75" fill="#231f20"/>
<line x1="481.75" y1="405.75" x2="503.00" y2="405.75" stroke="#231f20" stroke-width="1.0" stroke-linecap="butt"/>
<line x1="481.75" y1="403.85" x2="481.75" y2="407.65" stroke="#231f20" stroke-width="1.0" stroke-linecap="butt"/>
<line x1="503.00" y1="403.85" x2="503.00" y2="407.65" stroke="#231f20" stroke-width="1.0" stroke-linecap="butt"/>
<circle cx="490.07" cy="403.20" r="0.75" fill="#231f20"/>
<circle cx="492.38" cy="403.20" r="0.75" fill="#231f20"/>
<circle cx="494.68" cy="403.20" r="0.75" fill="#231f20"/>
<line x1="481.75" y1="414.25" x2="492.50" y2="414.25" stroke="#231f20" stroke-width="1.0" stroke-linecap="butt"/>
<line x1="481.75" y1="412.35" x2="481.75" y2="416.15" stroke="#231f20" stroke-width="1.0" stroke-linecap="butt"/>
<line x1="492.50" y1="412.35" x2="492.50" y2="416.15" stroke="#231f20" stroke-width="1.0" stroke-linecap="butt"/>
<circle cx="484.82" cy="411.70" r="0.75" fill="#231f20"/>
<circle cx="487.12" cy="411.70" r="0.75" fill="#231f20"/>
<circle cx="489.43" cy="411.70" r="0.75" fill="#231f20"/>
<text transform="translate(6.50,554.93)" font-size="12.5" text-anchor="start" fill="#000" font-weight="bold">J</text>
<rect x="33.20" y="544.60" width="7.80" height="5.80" fill="#aa6a24" />
<text transform="translate(43.75,549.93)" font-size="6.5" text-anchor="start" fill="#231f20" textLength="23.61" lengthAdjust="spacingAndGlyphs">Scramble</text>
<rect x="33.20" y="553.80" width="7.80" height="5.80" fill="#a6072e" />
<text transform="translate(43.75,559.13)" font-size="6.5" text-anchor="start" fill="#231f20" textLength="26.11" lengthAdjust="spacingAndGlyphs">shMdh1#2</text>
<rect x="33.20" y="563.10" width="7.80" height="5.80" fill="#2b497f" />
<text transform="translate(43.75,568.43)" font-size="6.5" text-anchor="start" fill="#231f20" textLength="26.11" lengthAdjust="spacingAndGlyphs">shMdh1#3</text>
<line x1="41.90" y1="625.99" x2="41.90" y2="624.89" stroke="#231f20" stroke-width="0.8" stroke-linecap="butt"/>
<line x1="40.20" y1="624.89" x2="43.60" y2="624.89" stroke="#231f20" stroke-width="0.8" stroke-linecap="butt"/>
<rect x="38.00" y="625.99" width="7.80" height="27.81" fill="#aa6a24" />
<line x1="52.40" y1="623.46" x2="52.40" y2="619.36" stroke="#231f20" stroke-width="0.8" stroke-linecap="butt"/>
<line x1="50.70" y1="619.36" x2="54.10" y2="619.36" stroke="#231f20" stroke-width="0.8" stroke-linecap="butt"/>
<rect x="48.50" y="623.46" width="7.80" height="30.34" fill="#a6072e" />
<line x1="62.90" y1="625.99" x2="62.90" y2="622.36" stroke="#231f20" stroke-width="0.8" stroke-linecap="butt"/>
<line x1="61.20" y1="622.36" x2="64.60" y2="622.36" stroke="#231f20" stroke-width="0.8" stroke-linecap="butt"/>
<rect x="59.00" y="625.99" width="7.80" height="27.81" fill="#2b497f" />
<line x1="81.40" y1="607.82" x2="81.40" y2="607.19" stroke="#231f20" stroke-width="0.8" stroke-linecap="butt"/>
<line x1="79.70" y1="607.19" x2="83.10" y2="607.19" stroke="#231f20" stroke-width="0.8" stroke-linecap="butt"/>
<rect x="77.50" y="607.82" width="7.80" height="45.98" fill="#aa6a24" />
<line x1="91.90" y1="629.31" x2="91.90" y2="627.89" stroke="#231f20" stroke-width="0.8" stroke-linecap="butt"/>
<line x1="90.20" y1="627.89" x2="93.60" y2="627.89" stroke="#231f20" stroke-width="0.8" stroke-linecap="butt"/>
<rect x="88.00" y="629.31" width="7.80" height="24.49" fill="#a6072e" />
<line x1="102.40" y1="625.99" x2="102.40" y2="622.36" stroke="#231f20" stroke-width="0.8" stroke-linecap="butt"/>
<line x1="100.70" y1="622.36" x2="104.10" y2="622.36" stroke="#231f20" stroke-width="0.8" stroke-linecap="butt"/>
<rect x="98.50" y="625.99" width="7.80" height="27.81" fill="#2b497f" />
<line x1="120.65" y1="612.25" x2="120.65" y2="611.14" stroke="#231f20" stroke-width="0.8" stroke-linecap="butt"/>
<line x1="118.95" y1="611.14" x2="122.35" y2="611.14" stroke="#231f20" stroke-width="0.8" stroke-linecap="butt"/>
<rect x="116.75" y="612.25" width="7.80" height="41.55" fill="#aa6a24" />
<line x1="131.15" y1="597.87" x2="131.15" y2="595.81" stroke="#231f20" stroke-width="0.8" stroke-linecap="butt"/>
<line x1="129.45" y1="595.81" x2="132.85" y2="595.81" stroke="#231f20" stroke-width="0.8" stroke-linecap="butt"/>
<rect x="127.25" y="597.87" width="7.80" height="55.93" fill="#a6072e" />
<line x1="141.65" y1="595.97" x2="141.65" y2="592.34" stroke="#231f20" stroke-width="0.8" stroke-linecap="butt"/>
<line x1="139.95" y1="592.34" x2="143.35" y2="592.34" stroke="#231f20" stroke-width="0.8" stroke-linecap="butt"/>
<rect x="137.75" y="595.97" width="7.80" height="57.83" fill="#2b497f" />
<line x1="32.50" y1="572.50" x2="32.50" y2="654.30" stroke="#101010" stroke-width="1.4" stroke-linecap="butt"/>
<line x1="32.00" y1="653.80" x2="150.00" y2="653.80" stroke="#101010" stroke-width="1.4" stroke-linecap="butt"/>
<line x1="29.90" y1="653.80" x2="32.50" y2="653.80" stroke="#231f20" stroke-width="0.8" stroke-linecap="butt"/>
<text transform="translate(26.60,656.38)" font-size="7.2" text-anchor="end" fill="#231f20" textLength="3.84" lengthAdjust="spacingAndGlyphs">0</text>
<line x1="29.90" y1="638.00" x2="32.50" y2="638.00" stroke="#231f20" stroke-width="0.8" stroke-linecap="butt"/>
<text transform="translate(26.60,640.58)" font-size="7.2" text-anchor="end" fill="#231f20" textLength="7.69" lengthAdjust="spacingAndGlyphs">10</text>
<line x1="29.90" y1="622.20" x2="32.50" y2="622.20" stroke="#231f20" stroke-width="0.8" stroke-linecap="butt"/>
<text transform="translate(26.60,624.78)" font-size="7.2" text-anchor="end" fill="#231f20" textLength="7.69" lengthAdjust="spacingAndGlyphs">20</text>
<line x1="29.90" y1="606.40" x2="32.50" y2="606.40" stroke="#231f20" stroke-width="0.8" stroke-linecap="butt"/>
<text transform="translate(26.60,608.98)" font-size="7.2" text-anchor="end" fill="#231f20" textLength="7.69" lengthAdjust="spacingAndGlyphs">30</text>
<line x1="29.90" y1="590.60" x2="32.50" y2="590.60" stroke="#231f20" stroke-width="0.8" stroke-linecap="butt"/>
<text transform="translate(26.60,593.18)" font-size="7.2" text-anchor="end" fill="#231f20" textLength="7.69" lengthAdjust="spacingAndGlyphs">40</text>
<line x1="29.90" y1="574.80" x2="32.50" y2="574.80" stroke="#231f20" stroke-width="0.8" stroke-linecap="butt"/>
<text transform="translate(26.60,577.38)" font-size="7.2" text-anchor="end" fill="#231f20" textLength="7.69" lengthAdjust="spacingAndGlyphs">50</text>
<line x1="52.40" y1="653.80" x2="52.40" y2="656.20" stroke="#231f20" stroke-width="0.8" stroke-linecap="butt"/>
<text transform="translate(52.40,665.71)" font-size="7.0" text-anchor="middle" fill="#231f20" textLength="17.00" lengthAdjust="spacingAndGlyphs">CD3e</text>
<line x1="91.75" y1="653.80" x2="91.75" y2="656.20" stroke="#231f20" stroke-width="0.8" stroke-linecap="butt"/>
<text transform="translate(91.75,665.71)" font-size="7.0" text-anchor="middle" fill="#231f20" textLength="15.53" lengthAdjust="spacingAndGlyphs">B220</text>
<line x1="130.75" y1="653.80" x2="130.75" y2="656.20" stroke="#231f20" stroke-width="0.8" stroke-linecap="butt"/>
<text transform="translate(130.75,665.71)" font-size="7.0" text-anchor="middle" fill="#231f20" textLength="33.62" lengthAdjust="spacingAndGlyphs">Mac-1/Gr-1</text>
<text transform="translate(14.00,613.00) rotate(-90)" font-size="8.3" text-anchor="middle" fill="#231f20" textLength="47.00" lengthAdjust="spacingAndGlyphs">% repopulation</text>
<line x1="81.25" y1="593.25" x2="101.75" y2="593.25" stroke="#231f20" stroke-width="1.0" stroke-linecap="butt"/>
<line x1="81.25" y1="591.35" x2="81.25" y2="595.15" stroke="#231f20" stroke-width="1.0" stroke-linecap="butt"/>
<line x1="101.75" y1="591.35" x2="101.75" y2="595.15" stroke="#231f20" stroke-width="1.0" stroke-linecap="butt"/>
<circle cx="90.35" cy="590.70" r="0.75" fill="#231f20"/>
<circle cx="92.65" cy="590.70" r="0.75" fill="#231f20"/>
<line x1="81.25" y1="602.00" x2="91.75" y2="602.00" stroke="#231f20" stroke-width="1.0" stroke-linecap="butt"/>
<line x1="81.25" y1="600.10" x2="81.25" y2="603.90" stroke="#231f20" stroke-width="1.0" stroke-linecap="butt"/>
<line x1="91.75" y1="600.10" x2="91.75" y2="603.90" stroke="#231f20" stroke-width="1.0" stroke-linecap="butt"/>
<circle cx="84.20" cy="599.40" r="0.75" fill="#231f20"/>
<circle cx="86.50" cy="599.40" r="0.75" fill="#231f20"/>
<circle cx="88.80" cy="599.40" r="0.75" fill="#231f20"/>
<line x1="118.75" y1="583.75" x2="142.00" y2="583.75" stroke="#231f20" stroke-width="1.0" stroke-linecap="butt"/>
<line x1="118.75" y1="581.85" x2="118.75" y2="585.65" stroke="#231f20" stroke-width="1.0" stroke-linecap="butt"/>
<line x1="142.00" y1="581.85" x2="142.00" y2="585.65" stroke="#231f20" stroke-width="1.0" stroke-linecap="butt"/>
<circle cx="129.22" cy="581.20" r="0.75" fill="#231f20"/>
<circle cx="131.53" cy="581.20" r="0.75" fill="#231f20"/>
<line x1="118.75" y1="592.25" x2="130.00" y2="592.25" stroke="#231f20" stroke-width="1.0" stroke-linecap="butt"/>
<line x1="118.75" y1="590.35" x2="118.75" y2="594.15" stroke="#231f20" stroke-width="1.0" stroke-linecap="butt"/>
<line x1="130.00" y1="590.35" x2="130.00" y2="594.15" stroke="#231f20" stroke-width="1.0" stroke-linecap="butt"/>
<circle cx="122.08" cy="589.70" r="0.75" fill="#231f20"/>
<circle cx="124.38" cy="589.70" r="0.75" fill="#231f20"/>
<circle cx="126.67" cy="589.70" r="0.75" fill="#231f20"/>
<text transform="translate(167.00,603.93)" font-size="12.5" text-anchor="start" fill="#000" font-weight="bold">K</text>
<rect x="189.30" y="628.80" width="51.00" height="11.60" fill="#eaeaea" stroke="#909090" stroke-width="0.6" />
<rect x="189.30" y="641.90" width="51.00" height="12.60" fill="#eaeaea" stroke="#909090" stroke-width="0.6" />
<rect x="191.90" y="633.30" width="14.80" height="3.80" rx="1.90" ry="1.90" fill="#0c0c0c" opacity="1.0" filter="url(#bl1)"/>
<rect x="210.60" y="634.30" width="11.20" height="2.60" rx="1.30" ry="1.30" fill="#0c0c0c" opacity="0.38" filter="url(#bl1)"/>
<rect x="226.20" y="634.00" width="11.60" height="2.40" rx="1.20" ry="1.20" fill="#0c0c0c" opacity="0.92" filter="url(#bl1)"/>
<rect x="192.05" y="647.60" width="14.40" height="3.20" rx="1.60" ry="1.60" fill="#0c0c0c" opacity="1.0" filter="url(#bl1)"/>
<rect x="209.05" y="647.60" width="14.40" height="3.20" rx="1.60" ry="1.60" fill="#0c0c0c" opacity="1.0" filter="url(#bl1)"/>
<rect x="225.55" y="647.60" width="14.40" height="3.20" rx="1.60" ry="1.60" fill="#0c0c0c" opacity="1.0" filter="url(#bl1)"/>
<text transform="translate(199.25,627.38)" font-size="7.2" text-anchor="middle" fill="#231f20" textLength="13.31" lengthAdjust="spacingAndGlyphs">1.00</text>
<text transform="translate(200.05,620.30) rotate(-45)" font-size="7.1" text-anchor="start" fill="#231f20" textLength="28.19" lengthAdjust="spacingAndGlyphs" stroke="#231f20" stroke-width="0.14">Scramble</text>
<text transform="translate(216.25,627.38)" font-size="7.2" text-anchor="middle" fill="#231f20" textLength="13.31" lengthAdjust="spacingAndGlyphs">0.09</text>
<text transform="translate(217.05,620.30) rotate(-45)" font-size="7.1" text-anchor="start" fill="#231f20" textLength="31.17" lengthAdjust="spacingAndGlyphs" stroke="#231f20" stroke-width="0.14">shMdh1#2</text>
<text transform="translate(232.75,627.38)" font-size="7.2" text-anchor="middle" fill="#231f20" textLength="13.31" lengthAdjust="spacingAndGlyphs">0.25</text>
<text transform="translate(233.55,620.30) rotate(-45)" font-size="7.1" text-anchor="start" fill="#231f20" textLength="31.17" lengthAdjust="spacingAndGlyphs" stroke="#231f20" stroke-width="0.14">shMdh1#3</text>
<text transform="translate(185.80,638.58)" font-size="7.2" text-anchor="end" fill="#231f20" textLength="18.30" lengthAdjust="spacingAndGlyphs">MDH1</text>
<text transform="translate(185.80,651.88)" font-size="7.2" text-anchor="end" fill="#231f20" textLength="18.80" lengthAdjust="spacingAndGlyphs">β-actin</text>
<text transform="translate(272.00,541.68)" font-size="12.5" text-anchor="start" fill="#000" font-weight="bold">L</text>
<rect x="298.40" y="531.60" width="7.70" height="5.80" fill="#3b6b52" />
<text transform="translate(309.25,536.62)" font-size="6.2" text-anchor="start" fill="#231f20" textLength="41.00" lengthAdjust="spacingAndGlyphs">SoNar-high+PBS</text>
<rect x="298.40" y="540.80" width="7.70" height="5.80" fill="#c5c4ca" />
<text transform="translate(309.25,545.82)" font-size="6.2" text-anchor="start" fill="#231f20" textLength="43.80" lengthAdjust="spacingAndGlyphs">SoNar-high+AOA</text>
<rect x="298.40" y="550.10" width="7.70" height="5.80" fill="#66abe3" />
<text transform="translate(309.25,555.12)" font-size="6.2" text-anchor="start" fill="#231f20" textLength="39.50" lengthAdjust="spacingAndGlyphs">SoNar-low+PBS</text>
<rect x="298.40" y="559.00" width="7.70" height="5.80" fill="#2a467f" />
<text transform="translate(309.25,564.02)" font-size="6.2" text-anchor="start" fill="#231f20" textLength="42.00" lengthAdjust="spacingAndGlyphs">SoNar-low+AOA</text>
<line x1="308.80" y1="629.80" x2="308.80" y2="628.52" stroke="#231f20" stroke-width="0.8" stroke-linecap="butt"/>
<line x1="307.00" y1="628.52" x2="310.60" y2="628.52" stroke="#231f20" stroke-width="0.8" stroke-linecap="butt"/>
<rect x="304.25" y="629.80" width="9.10" height="24.00" fill="#3b6b52" />
<line x1="321.30" y1="629.11" x2="321.30" y2="627.83" stroke="#231f20" stroke-width="0.8" stroke-linecap="butt"/>
<line x1="319.50" y1="627.83" x2="323.10" y2="627.83" stroke="#231f20" stroke-width="0.8" stroke-linecap="butt"/>
<rect x="316.75" y="629.11" width="9.10" height="24.69" fill="#c5c4ca" />
<line x1="333.80" y1="591.09" x2="333.80" y2="584.67" stroke="#231f20" stroke-width="0.8" stroke-linecap="butt"/>
<line x1="332.00" y1="584.67" x2="335.60" y2="584.67" stroke="#231f20" stroke-width="0.8" stroke-linecap="butt"/>
<rect x="329.25" y="591.09" width="9.10" height="62.71" fill="#66abe3" />
<line x1="346.30" y1="608.08" x2="346.30" y2="606.10" stroke="#231f20" stroke-width="0.8" stroke-linecap="butt"/>
<line x1="344.50" y1="606.10" x2="348.10" y2="606.10" stroke="#231f20" stroke-width="0.8" stroke-linecap="butt"/>
<rect x="341.75" y="608.08" width="9.10" height="45.72" fill="#2a467f" />
<line x1="367.80" y1="629.31" x2="367.80" y2="627.63" stroke="#231f20" stroke-width="0.8" stroke-linecap="butt"/>
<line x1="366.00" y1="627.63" x2="369.60" y2="627.63" stroke="#231f20" stroke-width="0.8" stroke-linecap="butt"/>
<rect x="363.25" y="629.31" width="9.10" height="24.49" fill="#3b6b52" />
<line x1="380.30" y1="630.10" x2="380.30" y2="628.52" stroke="#231f20" stroke-width="0.8" stroke-linecap="butt"/>
<line x1="378.50" y1="628.52" x2="382.10" y2="628.52" stroke="#231f20" stroke-width="0.8" stroke-linecap="butt"/>
<rect x="375.75" y="630.10" width="9.10" height="23.70" fill="#c5c4ca" />
<line x1="392.80" y1="593.07" x2="392.80" y2="587.34" stroke="#231f20" stroke-width="0.8" stroke-linecap="butt"/>
<line x1="391.00" y1="587.34" x2="394.60" y2="587.34" stroke="#231f20" stroke-width="0.8" stroke-linecap="butt"/>
<rect x="388.25" y="593.07" width="9.10" height="60.73" fill="#66abe3" />
<line x1="405.30" y1="612.82" x2="405.30" y2="607.39" stroke="#231f20" stroke-width="0.8" stroke-linecap="butt"/>
<line x1="403.50" y1="607.39" x2="407.10" y2="607.39" stroke="#231f20" stroke-width="0.8" stroke-linecap="butt"/>
<rect x="400.75" y="612.82" width="9.10" height="40.98" fill="#2a467f" />
<line x1="427.05" y1="630.79" x2="427.05" y2="628.52" stroke="#231f20" stroke-width="0.8" stroke-linecap="butt"/>
<line x1="425.25" y1="628.52" x2="428.85" y2="628.52" stroke="#231f20" stroke-width="0.8" stroke-linecap="butt"/>
<rect x="422.50" y="630.79" width="9.10" height="23.01" fill="#3b6b52" />
<line x1="439.55" y1="630.79" x2="439.55" y2="628.52" stroke="#231f20" stroke-width="0.8" stroke-linecap="butt"/>
<line x1="437.75" y1="628.52" x2="441.35" y2="628.52" stroke="#231f20" stroke-width="0.8" stroke-linecap="butt"/>
<rect x="435.00" y="630.79" width="9.10" height="23.01" fill="#c5c4ca" />
<line x1="452.05" y1="588.62" x2="452.05" y2="584.18" stroke="#231f20" stroke-width="0.8" stroke-linecap="butt"/>
<line x1="450.25" y1="584.18" x2="453.85" y2="584.18" stroke="#231f20" stroke-width="0.8" stroke-linecap="butt"/>
<rect x="447.50" y="588.62" width="9.10" height="65.17" fill="#66abe3" />
<line x1="464.55" y1="629.61" x2="464.55" y2="627.33" stroke="#231f20" stroke-width="0.8" stroke-linecap="butt"/>
<line x1="462.75" y1="627.33" x2="466.35" y2="627.33" stroke="#231f20" stroke-width="0.8" stroke-linecap="butt"/>
<rect x="460.00" y="629.61" width="9.10" height="24.19" fill="#2a467f" />
<line x1="298.25" y1="572.50" x2="298.25" y2="654.30" stroke="#101010" stroke-width="1.4" stroke-linecap="butt"/>
<line x1="297.75" y1="653.80" x2="475.00" y2="653.80" stroke="#101010" stroke-width="1.4" stroke-linecap="butt"/>
<line x1="295.65" y1="653.80" x2="298.25" y2="653.80" stroke="#231f20" stroke-width="0.8" stroke-linecap="butt"/>
<text transform="translate(292.00,656.38)" font-size="7.2" text-anchor="end" fill="#231f20" textLength="3.84" lengthAdjust="spacingAndGlyphs">0</text>
<line x1="295.65" y1="634.05" x2="298.25" y2="634.05" stroke="#231f20" stroke-width="0.8" stroke-linecap="butt"/>
<text transform="translate(292.00,636.63)" font-size="7.2" text-anchor="end" fill="#231f20" textLength="7.69" lengthAdjust="spacingAndGlyphs">20</text>
<line x1="295.65" y1="614.30" x2="298.25" y2="614.30" stroke="#231f20" stroke-width="0.8" stroke-linecap="butt"/>
<text transform="translate(292.00,616.88)" font-size="7.2" text-anchor="end" fill="#231f20" textLength="7.69" lengthAdjust="spacingAndGlyphs">40</text>
<line x1="295.65" y1="594.55" x2="298.25" y2="594.55" stroke="#231f20" stroke-width="0.8" stroke-linecap="butt"/>
<text transform="translate(292.00,597.13)" font-size="7.2" text-anchor="end" fill="#231f20" textLength="7.69" lengthAdjust="spacingAndGlyphs">60</text>
<line x1="295.65" y1="574.80" x2="298.25" y2="574.80" stroke="#231f20" stroke-width="0.8" stroke-linecap="butt"/>
<text transform="translate(292.00,577.38)" font-size="7.2" text-anchor="end" fill="#231f20" textLength="7.69" lengthAdjust="spacingAndGlyphs">80</text>
<line x1="327.50" y1="653.80" x2="327.50" y2="656.20" stroke="#231f20" stroke-width="0.8" stroke-linecap="butt"/>
<text transform="translate(327.50,665.81)" font-size="7.0" text-anchor="middle" fill="#231f20" textLength="24.40" lengthAdjust="spacingAndGlyphs">4 weeks</text>
<line x1="386.25" y1="653.80" x2="386.25" y2="656.20" stroke="#231f20" stroke-width="0.8" stroke-linecap="butt"/>
<text transform="translate(386.25,665.81)" font-size="7.0" text-anchor="middle" fill="#231f20" textLength="24.40" lengthAdjust="spacingAndGlyphs">8 weeks</text>
<line x1="445.50" y1="653.80" x2="445.50" y2="656.20" stroke="#231f20" stroke-width="0.8" stroke-linecap="butt"/>
<text transform="translate(445.50,665.81)" font-size="7.0" text-anchor="middle" fill="#231f20" textLength="28.09" lengthAdjust="spacingAndGlyphs">16 weeks</text>
<text transform="translate(279.30,612.30) rotate(-90)" font-size="8.3" text-anchor="middle" fill="#231f20" textLength="47.00" lengthAdjust="spacingAndGlyphs">% repopulation</text>
<line x1="320.50" y1="572.50" x2="347.00" y2="572.50" stroke="#231f20" stroke-width="1.0" stroke-linecap="butt"/>
<line x1="320.50" y1="570.60" x2="320.50" y2="574.40" stroke="#231f20" stroke-width="1.0" stroke-linecap="butt"/>
<line x1="347.00" y1="570.60" x2="347.00" y2="574.40" stroke="#231f20" stroke-width="1.0" stroke-linecap="butt"/>
<circle cx="331.45" cy="569.90" r="0.75" fill="#231f20"/>
<circle cx="333.75" cy="569.90" r="0.75" fill="#231f20"/>
<circle cx="336.05" cy="569.90" r="0.75" fill="#231f20"/>
<line x1="305.75" y1="582.25" x2="333.75" y2="582.25" stroke="#231f20" stroke-width="1.0" stroke-linecap="butt"/>
<line x1="305.75" y1="580.35" x2="305.75" y2="584.15" stroke="#231f20" stroke-width="1.0" stroke-linecap="butt"/>
<line x1="333.75" y1="580.35" x2="333.75" y2="584.15" stroke="#231f20" stroke-width="1.0" stroke-linecap="butt"/>
<circle cx="317.45" cy="579.70" r="0.75" fill="#231f20"/>
<circle cx="319.75" cy="579.70" r="0.75" fill="#231f20"/>
<circle cx="322.05" cy="579.70" r="0.75" fill="#231f20"/>
<line x1="334.50" y1="582.25" x2="347.00" y2="582.25" stroke="#231f20" stroke-width="1.0" stroke-linecap="butt"/>
<line x1="334.50" y1="580.35" x2="334.50" y2="584.15" stroke="#231f20" stroke-width="1.0" stroke-linecap="butt"/>
<line x1="347.00" y1="580.35" x2="347.00" y2="584.15" stroke="#231f20" stroke-width="1.0" stroke-linecap="butt"/>
<circle cx="339.60" cy="579.70" r="0.75" fill="#231f20"/>
<circle cx="341.90" cy="579.70" r="0.75" fill="#231f20"/>
<line x1="378.75" y1="572.50" x2="404.50" y2="572.50" stroke="#231f20" stroke-width="1.0" stroke-linecap="butt"/>
<line x1="378.75" y1="570.60" x2="378.75" y2="574.40" stroke="#231f20" stroke-width="1.0" stroke-linecap="butt"/>
<line x1="404.50" y1="570.60" x2="404.50" y2="574.40" stroke="#231f20" stroke-width="1.0" stroke-linecap="butt"/>
<circle cx="390.48" cy="569.90" r="0.75" fill="#231f20"/>
<circle cx="392.78" cy="569.90" r="0.75" fill="#231f20"/>
<line x1="362.50" y1="582.75" x2="391.25" y2="582.75" stroke="#231f20" stroke-width="1.0" stroke-linecap="butt"/>
<line x1="362.50" y1="580.85" x2="362.50" y2="584.65" stroke="#231f20" stroke-width="1.0" stroke-linecap="butt"/>
<line x1="391.25" y1="580.85" x2="391.25" y2="584.65" stroke="#231f20" stroke-width="1.0" stroke-linecap="butt"/>
<circle cx="374.57" cy="580.20" r="0.75" fill="#231f20"/>
<circle cx="376.88" cy="580.20" r="0.75" fill="#231f20"/>
<circle cx="379.18" cy="580.20" r="0.75" fill="#231f20"/>
<line x1="393.75" y1="581.75" x2="406.25" y2="581.75" stroke="#231f20" stroke-width="1.0" stroke-linecap="butt"/>
<line x1="393.75" y1="579.85" x2="393.75" y2="583.65" stroke="#231f20" stroke-width="1.0" stroke-linecap="butt"/>
<line x1="406.25" y1="579.85" x2="406.25" y2="583.65" stroke="#231f20" stroke-width="1.0" stroke-linecap="butt"/>
<circle cx="400.00" cy="579.20" r="0.75" fill="#231f20"/>
<line x1="422.50" y1="580.50" x2="450.50" y2="580.50" stroke="#231f20" stroke-width="1.0" stroke-linecap="butt"/>
<line x1="422.50" y1="578.60" x2="422.50" y2="582.40" stroke="#231f20" stroke-width="1.0" stroke-linecap="butt"/>
<line x1="450.50" y1="578.60" x2="450.50" y2="582.40" stroke="#231f20" stroke-width="1.0" stroke-linecap="butt"/>
<circle cx="434.20" cy="577.90" r="0.75" fill="#231f20"/>
<circle cx="436.50" cy="577.90" r="0.75" fill="#231f20"/>
<circle cx="438.80" cy="577.90" r="0.75" fill="#231f20"/>
<line x1="452.50" y1="580.50" x2="465.50" y2="580.50" stroke="#231f20" stroke-width="1.0" stroke-linecap="butt"/>
<line x1="452.50" y1="578.60" x2="452.50" y2="582.40" stroke="#231f20" stroke-width="1.0" stroke-linecap="butt"/>
<line x1="465.50" y1="578.60" x2="465.50" y2="582.40" stroke="#231f20" stroke-width="1.0" stroke-linecap="butt"/>
<circle cx="456.70" cy="577.90" r="0.75" fill="#231f20"/>
<circle cx="459.00" cy="577.90" r="0.75" fill="#231f20"/>
<circle cx="461.30" cy="577.90" r="0.75" fill="#231f20"/>
</g>
<path d="M0 0H520V673H0Z M1 1V671.85H518.9V1Z" fill="#000" fill-rule="evenodd"/>
</svg>
</body></html>
